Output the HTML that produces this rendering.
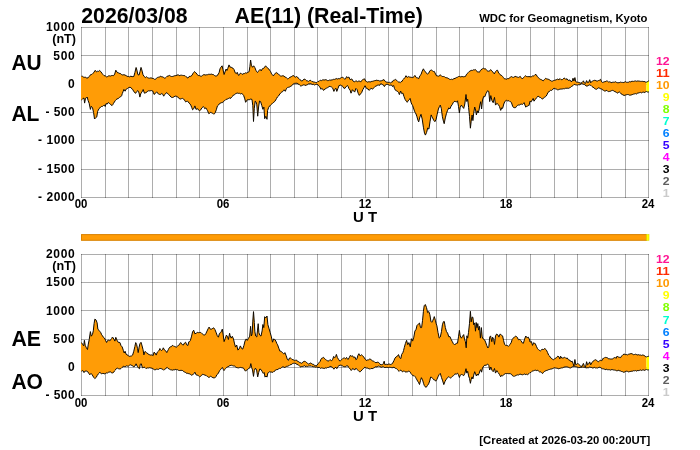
<!DOCTYPE html><html><head><meta charset="utf-8"><title>AE(11) Real-Time</title>
<style>html,body{margin:0;padding:0;background:#fff}svg{display:block}text{font-family:"Liberation Sans",sans-serif;font-weight:bold;fill:#000}</style></head><body>
<svg width="700" height="450" viewBox="0 0 700 450">
<rect width="700" height="450" fill="#fff"/>
<g stroke="#000" stroke-opacity="0.32" stroke-width="1" fill="none" shape-rendering="crispEdges"><line x1="81.5" y1="27.0" x2="81.5" y2="198.0"/><line x1="105.5" y1="27.0" x2="105.5" y2="198.0"/><line x1="128.5" y1="27.0" x2="128.5" y2="198.0"/><line x1="152.5" y1="27.0" x2="152.5" y2="198.0"/><line x1="176.5" y1="27.0" x2="176.5" y2="198.0"/><line x1="199.5" y1="27.0" x2="199.5" y2="198.0"/><line x1="223.5" y1="27.0" x2="223.5" y2="198.0"/><line x1="247.5" y1="27.0" x2="247.5" y2="198.0"/><line x1="270.5" y1="27.0" x2="270.5" y2="198.0"/><line x1="294.5" y1="27.0" x2="294.5" y2="198.0"/><line x1="317.5" y1="27.0" x2="317.5" y2="198.0"/><line x1="341.5" y1="27.0" x2="341.5" y2="198.0"/><line x1="365.5" y1="27.0" x2="365.5" y2="198.0"/><line x1="388.5" y1="27.0" x2="388.5" y2="198.0"/><line x1="412.5" y1="27.0" x2="412.5" y2="198.0"/><line x1="436.5" y1="27.0" x2="436.5" y2="198.0"/><line x1="459.5" y1="27.0" x2="459.5" y2="198.0"/><line x1="483.5" y1="27.0" x2="483.5" y2="198.0"/><line x1="506.5" y1="27.0" x2="506.5" y2="198.0"/><line x1="530.5" y1="27.0" x2="530.5" y2="198.0"/><line x1="554.5" y1="27.0" x2="554.5" y2="198.0"/><line x1="577.5" y1="27.0" x2="577.5" y2="198.0"/><line x1="601.5" y1="27.0" x2="601.5" y2="198.0"/><line x1="625.5" y1="27.0" x2="625.5" y2="198.0"/><line x1="648.5" y1="27.0" x2="648.5" y2="198.0"/><line x1="81.0" y1="27.5" x2="649.0" y2="27.5"/><line x1="81.0" y1="55.5" x2="649.0" y2="55.5"/><line x1="81.0" y1="84.5" x2="649.0" y2="84.5"/><line x1="81.0" y1="112.5" x2="649.0" y2="112.5"/><line x1="81.0" y1="140.5" x2="649.0" y2="140.5"/><line x1="81.0" y1="169.5" x2="649.0" y2="169.5"/><line x1="81.0" y1="197.5" x2="649.0" y2="197.5"/></g>
<g stroke="#000" stroke-opacity="0.32" stroke-width="1" fill="none" shape-rendering="crispEdges"><line x1="81.5" y1="254.0" x2="81.5" y2="396.0"/><line x1="105.5" y1="254.0" x2="105.5" y2="396.0"/><line x1="128.5" y1="254.0" x2="128.5" y2="396.0"/><line x1="152.5" y1="254.0" x2="152.5" y2="396.0"/><line x1="176.5" y1="254.0" x2="176.5" y2="396.0"/><line x1="199.5" y1="254.0" x2="199.5" y2="396.0"/><line x1="223.5" y1="254.0" x2="223.5" y2="396.0"/><line x1="247.5" y1="254.0" x2="247.5" y2="396.0"/><line x1="270.5" y1="254.0" x2="270.5" y2="396.0"/><line x1="294.5" y1="254.0" x2="294.5" y2="396.0"/><line x1="317.5" y1="254.0" x2="317.5" y2="396.0"/><line x1="341.5" y1="254.0" x2="341.5" y2="396.0"/><line x1="365.5" y1="254.0" x2="365.5" y2="396.0"/><line x1="388.5" y1="254.0" x2="388.5" y2="396.0"/><line x1="412.5" y1="254.0" x2="412.5" y2="396.0"/><line x1="436.5" y1="254.0" x2="436.5" y2="396.0"/><line x1="459.5" y1="254.0" x2="459.5" y2="396.0"/><line x1="483.5" y1="254.0" x2="483.5" y2="396.0"/><line x1="506.5" y1="254.0" x2="506.5" y2="396.0"/><line x1="530.5" y1="254.0" x2="530.5" y2="396.0"/><line x1="554.5" y1="254.0" x2="554.5" y2="396.0"/><line x1="577.5" y1="254.0" x2="577.5" y2="396.0"/><line x1="601.5" y1="254.0" x2="601.5" y2="396.0"/><line x1="625.5" y1="254.0" x2="625.5" y2="396.0"/><line x1="648.5" y1="254.0" x2="648.5" y2="396.0"/><line x1="81.0" y1="254.5" x2="649.0" y2="254.5"/><line x1="81.0" y1="282.5" x2="649.0" y2="282.5"/><line x1="81.0" y1="310.5" x2="649.0" y2="310.5"/><line x1="81.0" y1="339.5" x2="649.0" y2="339.5"/><line x1="81.0" y1="367.5" x2="649.0" y2="367.5"/><line x1="81.0" y1="395.5" x2="649.0" y2="395.5"/></g>
<polygon points="81.0,76.2 81.5,76.2 82.5,76.3 83.5,77.1 84.3,77.3 85.2,77.1 86.1,77.7 86.9,78.1 88.1,77.8 89.2,76.5 90.1,75.2 91.0,74.5 91.8,74.4 92.7,73.5 93.9,72.5 95.0,70.4 95.9,71.1 96.8,71.9 97.6,71.2 98.5,71.4 99.7,70.5 100.8,71.6 102.0,73.3 103.1,74.7 104.0,75.6 104.9,75.8 105.7,76.1 106.6,76.9 107.7,76.5 108.9,75.7 109.8,75.9 110.6,76.0 111.8,75.5 112.7,75.5 113.5,75.7 114.7,74.1 115.8,70.2 117.0,72.1 117.9,72.9 118.7,72.9 119.9,73.6 120.8,73.7 121.6,74.6 122.8,75.0 123.9,74.7 125.1,75.1 126.2,75.7 127.1,76.2 128.0,76.6 128.8,76.5 129.7,76.9 130.9,76.1 132.0,76.7 132.9,76.6 133.8,76.5 134.9,72.5 136.1,67.5 136.9,70.1 137.8,74.5 139.0,75.1 140.1,71.3 141.0,67.4 141.8,69.9 143.0,74.7 144.2,76.5 145.3,77.6 146.5,76.7 147.6,77.7 148.5,78.0 149.4,78.2 150.2,78.0 151.1,77.8 152.0,78.3 152.8,78.5 153.7,78.6 154.6,79.4 155.0,79.5 155.9,78.8 156.7,78.1 157.6,77.4 158.5,77.2 159.3,77.1 160.2,76.3 161.1,76.5 161.9,76.9 162.8,76.9 163.7,77.5 164.5,78.1 165.4,77.9 166.3,77.1 167.1,76.3 168.0,76.0 168.9,75.8 169.7,75.4 170.6,76.2 171.5,76.5 172.3,76.5 173.2,76.3 174.1,75.9 174.9,75.7 175.8,75.6 177.0,75.2 178.1,74.7 179.0,75.5 179.9,75.6 180.7,75.2 181.6,75.2 182.5,75.4 183.3,75.5 184.2,75.6 185.1,75.8 185.9,76.6 186.8,77.2 187.9,78.1 189.1,76.5 190.0,76.3 190.8,76.3 192.0,75.3 193.2,73.1 193.8,72.4 194.5,71.5 195.3,72.4 196.0,72.8 197.2,74.6 198.1,75.3 198.9,75.6 199.8,75.7 200.7,76.2 201.5,76.2 202.4,75.5 203.3,74.8 204.1,74.7 205.0,74.8 205.9,75.1 206.7,74.7 207.6,74.7 208.5,74.3 209.3,74.3 210.2,74.4 211.1,74.1 211.9,74.2 212.8,74.6 213.7,74.7 214.5,75.5 215.4,75.9 216.3,76.3 217.1,75.2 218.0,74.8 219.2,72.3 220.0,68.8 220.9,67.2 222.1,65.8 223.0,69.8 224.1,74.5 225.3,71.0 226.1,69.0 226.9,70.5 227.8,68.4 229.0,64.9 230.1,67.2 231.2,67.0 232.0,67.9 232.9,68.1 234.0,69.5 235.2,72.8 236.4,73.6 237.2,72.3 237.9,74.0 238.7,75.5 239.5,74.5 240.4,73.1 241.3,73.5 242.1,74.3 243.0,74.1 243.9,73.4 244.7,73.5 245.6,72.8 246.5,73.1 247.3,72.7 248.2,72.1 249.1,71.7 249.9,66.4 250.6,60.0 251.4,65.2 252.5,67.3 253.7,65.8 254.9,67.7 256.0,70.5 256.8,71.8 257.5,72.5 258.2,71.6 258.9,70.6 260.1,69.4 261.2,70.9 262.4,68.7 263.2,68.6 264.1,67.9 264.9,66.7 265.6,65.8 266.3,66.9 267.0,67.4 267.9,68.2 268.7,68.8 269.6,70.3 270.5,71.4 271.6,73.9 272.3,74.7 273.0,75.7 273.8,75.4 274.5,74.2 275.4,73.2 276.2,72.5 277.1,73.2 278.0,73.6 278.8,74.7 279.7,75.2 280.6,76.0 281.4,76.1 282.3,75.8 283.2,75.8 284.0,76.0 284.9,77.1 285.8,77.2 286.6,78.0 287.5,78.8 288.4,78.6 289.2,78.1 290.1,77.0 291.0,77.0 291.8,76.3 292.7,75.8 293.6,75.5 294.3,76.6 295.0,77.0 295.7,77.1 296.5,76.5 297.3,76.9 298.2,78.1 299.1,78.7 299.9,79.7 300.8,80.1 301.7,81.2 302.8,80.3 304.0,79.2 305.0,79.2 305.9,80.1 306.7,80.8 307.6,80.9 308.5,81.4 309.3,80.7 310.2,80.3 311.1,80.7 311.9,81.5 312.8,81.6 313.7,82.0 314.5,82.1 315.4,82.4 316.3,82.6 317.1,82.3 318.0,81.4 318.9,81.4 319.7,80.6 320.6,80.3 321.5,80.6 322.3,80.0 323.2,79.8 324.1,80.1 324.9,79.8 325.8,79.7 326.7,80.0 327.5,80.6 328.4,80.6 329.3,80.0 330.1,80.4 331.0,79.8 331.9,80.1 332.7,79.7 333.6,79.3 334.5,79.4 335.3,79.1 336.2,78.5 337.1,79.0 337.9,78.9 338.8,78.5 339.7,78.9 340.5,77.9 341.4,77.6 342.6,77.2 343.4,78.0 344.3,78.9 345.5,78.9 346.6,76.6 347.8,77.7 348.9,77.0 350.1,79.7 351.0,79.4 351.8,78.9 353.0,81.0 353.8,81.6 354.7,81.9 355.9,80.6 356.7,81.3 357.6,81.7 358.5,81.2 359.3,80.8 360.5,82.1 361.6,80.6 362.5,79.8 363.4,79.3 364.5,78.8 365.7,81.2 366.6,81.5 367.4,82.1 368.3,81.8 369.2,81.7 370.0,82.0 370.9,81.8 371.8,81.3 372.6,81.3 373.5,81.0 374.4,80.7 375.2,80.6 376.1,80.3 377.0,80.1 377.8,80.6 378.7,80.5 379.6,81.0 380.0,81.2 380.9,80.7 381.7,80.7 382.9,80.1 384.0,79.6 385.2,81.4 386.1,82.1 386.9,82.0 387.8,82.3 388.7,82.6 389.5,82.3 390.4,82.9 391.3,82.2 392.1,82.3 393.3,80.4 394.5,80.0 395.6,79.4 396.8,80.5 397.6,81.3 398.5,82.0 399.4,82.0 400.2,82.7 401.1,81.6 402.0,81.5 402.8,79.8 403.7,79.0 404.9,77.7 406.0,75.7 407.2,77.4 407.9,77.1 408.7,76.5 409.4,77.0 410.1,77.1 410.9,77.3 411.8,77.4 412.7,77.6 413.5,77.3 414.2,76.2 414.9,75.4 416.1,77.4 416.8,77.8 417.6,77.9 418.7,78.7 419.9,75.7 421.0,74.6 422.2,71.1 423.4,68.8 424.5,70.9 425.7,72.1 426.4,73.3 427.2,74.0 427.9,73.8 428.6,73.3 429.7,71.1 430.9,69.9 431.7,70.2 432.6,70.9 433.5,71.5 434.3,71.4 435.5,74.0 436.6,75.9 437.5,75.9 438.4,76.2 439.5,75.8 440.3,74.7 441.1,75.6 441.8,76.4 442.7,76.5 443.6,76.5 444.5,76.7 445.3,77.5 446.2,77.7 447.1,77.8 447.9,78.2 448.8,78.7 449.7,79.3 450.5,79.5 451.4,79.2 452.3,79.6 453.1,78.9 454.0,78.9 455.0,78.1 455.9,78.1 456.7,77.4 457.6,77.2 458.5,76.5 459.3,76.4 460.2,76.8 461.1,76.9 461.9,76.3 462.8,76.7 463.7,76.8 464.5,76.6 465.4,76.5 466.6,74.2 467.4,73.6 468.3,72.4 469.2,71.5 470.0,71.1 470.9,70.5 471.8,70.3 472.6,70.4 473.5,69.8 474.4,69.9 475.2,69.5 476.4,70.5 477.5,72.1 478.4,71.9 479.3,72.4 480.4,70.4 481.1,70.1 481.8,69.0 482.6,68.7 483.3,68.2 484.1,68.8 484.8,68.8 485.5,68.7 486.2,69.6 486.9,70.5 487.6,71.0 488.4,71.2 489.1,71.2 489.9,70.7 490.6,69.6 491.3,70.2 492.0,71.3 493.2,72.3 494.3,73.9 495.5,71.7 496.6,70.4 497.5,70.2 498.7,73.1 499.4,73.5 500.1,74.7 501.0,75.2 501.8,75.6 502.6,76.5 503.3,77.4 504.0,78.5 504.7,78.8 505.6,78.9 506.4,79.3 507.3,78.6 508.2,78.8 509.0,78.2 509.9,77.7 510.8,76.9 511.6,76.6 512.5,77.2 513.4,77.4 514.2,77.0 515.1,76.3 516.0,76.7 516.8,76.9 517.7,77.2 518.6,77.4 519.5,76.8 520.3,76.4 521.2,77.8 522.1,78.8 522.9,78.2 523.8,77.5 524.7,76.5 525.5,75.6 526.4,76.5 527.3,76.6 528.1,76.8 529.0,76.4 530.0,76.9 530.9,76.8 531.7,76.6 532.6,75.9 533.5,76.0 534.2,75.5 534.9,74.8 536.0,74.4 537.2,76.3 537.9,77.3 538.7,77.9 539.5,78.7 540.4,79.3 541.3,79.6 542.1,80.2 543.3,80.8 544.5,79.4 545.6,78.3 546.5,78.8 547.3,79.0 548.2,79.2 549.1,79.6 549.9,80.1 550.8,80.7 551.7,81.2 552.5,81.1 553.4,80.6 554.3,80.4 555.1,80.0 556.0,80.0 556.9,79.4 557.7,79.1 558.9,79.7 560.1,78.6 561.2,79.7 562.4,79.6 563.2,78.8 564.1,78.1 565.0,78.4 565.8,79.5 567.0,78.7 568.2,80.4 569.0,80.4 569.9,79.9 571.0,81.7 572.2,81.2 573.0,78.2 573.9,81.0 574.9,77.6 575.7,81.6 576.5,82.0 577.4,82.2 578.3,82.3 579.1,82.6 580.0,82.9 580.9,83.2 582.0,82.6 582.7,81.9 583.4,80.8 584.3,82.9 585.5,83.4 586.6,80.6 587.6,82.6 588.7,82.3 589.7,79.7 590.7,82.8 591.6,81.6 592.4,81.2 593.3,80.7 594.2,80.4 595.0,80.2 595.9,80.7 596.8,81.0 597.6,81.0 598.5,80.5 599.4,80.3 600.5,79.3 601.6,81.8 602.4,82.4 603.3,82.2 604.2,81.8 605.0,81.7 605.9,81.4 606.8,80.9 607.6,81.2 608.5,82.0 609.4,81.8 610.2,82.0 611.1,82.6 612.0,82.5 612.8,82.2 613.7,82.2 614.6,82.2 615.4,81.7 616.3,82.3 617.2,82.6 618.0,82.9 618.9,82.6 619.8,82.5 620.6,82.1 621.5,82.4 622.4,82.4 623.2,82.6 624.1,82.3 625.0,81.9 625.8,81.7 626.7,82.4 627.6,82.3 628.4,82.3 629.3,81.6 630.2,82.0 631.0,81.6 631.9,81.3 632.8,81.3 633.6,81.4 634.5,81.1 635.4,80.9 636.2,81.4 637.1,80.9 638.0,81.2 638.8,81.0 639.7,81.2 640.6,81.4 641.4,81.4 642.3,81.3 643.2,81.6 644.0,81.4 644.9,81.7 645.8,82.2 646.4,82.1 646.4,91.6 645.8,91.7 644.9,92.5 644.0,92.3 643.2,92.1 642.3,92.4 641.4,92.9 640.6,92.4 639.7,92.6 638.8,92.9 638.0,93.1 637.1,93.3 636.2,94.2 635.4,93.6 634.5,93.9 633.6,94.1 632.8,94.4 631.9,94.8 631.0,94.9 630.2,95.2 629.3,95.1 628.4,94.6 627.6,94.5 626.7,94.7 625.8,94.9 625.0,95.2 624.1,95.5 622.9,94.8 622.1,94.5 621.2,93.9 620.3,92.7 619.5,92.0 618.6,92.2 617.7,93.2 616.9,92.8 616.0,91.8 615.1,92.0 614.3,91.2 613.4,90.7 612.5,90.4 611.7,90.6 610.8,91.1 609.7,91.4 608.6,91.6 607.7,91.3 606.9,90.4 606.0,90.5 605.1,91.2 604.3,90.9 603.4,90.3 602.5,89.9 601.7,88.9 600.8,88.9 599.9,88.3 599.1,88.1 598.2,87.8 597.3,88.8 596.5,89.3 595.6,89.1 594.7,88.7 593.9,87.6 593.0,87.4 592.1,86.5 591.3,85.7 590.4,85.3 589.5,84.9 588.7,85.1 587.8,86.0 586.9,86.0 586.1,86.1 585.2,84.9 584.3,84.5 583.5,84.3 582.6,83.8 581.7,83.4 580.9,84.0 580.0,84.7 579.1,84.8 578.3,84.7 577.4,85.1 576.5,85.0 575.7,84.9 574.8,84.4 573.9,84.6 573.1,85.5 572.2,86.1 571.3,86.6 570.5,87.4 569.6,87.8 568.7,88.3 567.9,88.3 567.0,88.1 566.1,88.4 565.3,88.3 564.4,88.8 563.5,88.7 562.7,88.9 561.8,89.1 560.9,88.9 560.1,89.3 559.2,89.3 558.3,89.8 557.5,89.8 556.6,89.2 555.7,89.0 554.9,88.4 554.0,88.4 553.1,88.9 552.3,89.9 551.4,90.5 550.5,90.3 549.7,90.9 548.8,92.0 547.9,92.5 547.1,94.5 546.2,96.1 545.3,96.8 544.5,97.3 543.6,97.8 542.7,99.1 541.6,98.6 540.7,97.6 539.8,97.3 539.0,96.9 538.1,96.0 537.2,97.3 536.4,97.9 535.2,99.6 534.0,101.2 533.2,98.4 532.3,99.9 531.2,101.8 530.0,101.1 529.0,105.6 528.3,105.5 527.6,106.1 526.7,106.3 525.8,107.2 524.9,105.0 524.1,102.6 523.4,103.6 522.6,104.4 521.8,104.1 520.9,104.2 520.0,104.5 519.2,105.2 518.3,105.0 517.4,105.5 516.6,106.2 515.7,107.6 514.8,107.6 514.0,107.9 513.3,107.2 512.6,106.1 511.4,102.5 510.7,101.8 509.9,101.6 509.0,100.7 508.2,100.8 507.3,100.9 506.4,100.3 505.7,100.8 504.9,101.4 503.8,104.0 502.6,108.4 501.8,107.7 500.7,110.4 499.5,106.6 498.4,104.6 497.6,103.9 496.8,103.3 496.2,104.4 495.5,105.1 494.5,97.4 493.8,100.0 493.2,102.7 492.0,100.8 490.8,95.6 489.7,101.6 488.8,91.6 487.6,90.7 486.8,92.1 486.0,93.6 484.8,96.8 483.7,96.4 482.5,100.0 481.6,109.0 480.7,101.7 479.9,104.9 479.0,110.1 478.1,113.0 477.3,110.8 476.4,115.0 475.6,110.0 474.7,107.0 473.7,113.2 472.9,120.6 472.1,115.0 471.2,121.2 470.4,128.2 469.5,116.4 468.6,107.4 467.7,99.2 466.8,101.5 466.0,94.5 464.8,104.0 463.7,108.4 462.5,106.8 461.4,105.1 460.2,107.3 459.4,113.0 458.5,106.3 457.5,100.8 456.4,102.1 455.7,101.7 455.0,101.1 454.0,101.7 453.1,102.8 452.3,104.5 451.1,106.1 449.9,108.9 448.8,107.8 447.6,110.3 446.5,113.3 445.3,117.9 444.2,123.7 443.4,121.1 442.4,116.7 441.3,108.5 440.3,105.1 439.5,106.4 438.4,109.0 437.2,114.3 436.1,119.3 434.9,121.7 433.8,120.4 432.6,117.9 431.9,116.6 431.2,114.9 430.1,121.2 428.9,129.1 427.7,128.0 426.6,132.4 425.4,135.1 424.5,133.2 423.4,127.2 422.2,119.1 421.0,114.3 419.9,117.0 418.7,121.9 417.9,120.1 416.8,116.2 416.0,114.0 415.3,112.7 414.5,111.2 413.8,109.0 412.6,105.5 411.9,104.3 411.2,102.9 410.1,98.4 409.4,99.6 408.7,100.1 407.9,101.2 407.2,102.3 406.4,101.3 405.2,99.6 404.0,96.6 402.9,93.1 401.7,93.6 400.6,91.0 399.4,94.6 398.5,92.4 397.3,91.2 396.5,90.8 395.6,90.4 394.5,88.6 393.6,85.5 392.5,86.6 391.6,85.0 390.4,85.2 389.5,85.3 388.7,84.8 387.8,84.4 386.9,84.3 386.2,84.5 385.5,84.8 384.4,86.6 383.2,84.7 382.5,84.6 381.7,83.9 380.9,83.9 380.0,84.3 379.6,85.4 378.7,85.1 377.8,85.0 377.0,85.7 376.1,86.0 375.2,86.4 374.4,87.2 373.5,88.1 372.6,89.2 371.8,88.6 370.9,88.3 370.0,89.5 369.2,90.4 368.0,88.9 367.1,88.9 366.3,88.1 365.1,85.7 364.0,87.6 362.8,89.7 361.6,92.7 360.5,93.9 359.3,95.4 358.2,93.3 357.0,89.5 355.9,88.4 354.7,92.1 353.6,91.0 352.4,89.7 351.7,91.7 351.0,93.2 350.1,90.1 348.9,88.6 348.2,86.7 347.5,85.5 346.8,86.2 346.0,86.6 344.9,88.4 343.7,88.1 343.0,86.7 342.2,86.0 341.5,85.6 340.8,85.0 340.0,85.5 339.1,85.4 337.9,88.6 336.8,91.4 336.0,88.3 334.8,89.3 333.9,91.4 332.7,88.1 331.6,87.1 330.7,86.7 329.9,86.3 329.0,86.7 328.1,87.3 327.3,87.8 326.4,88.0 325.6,88.9 324.9,89.0 324.2,89.9 323.5,90.4 322.3,88.6 321.6,88.6 321.0,89.3 319.8,86.9 318.6,85.8 317.9,84.7 317.1,84.3 316.3,84.3 315.4,84.6 314.5,85.0 313.7,84.3 312.8,84.6 311.9,84.1 311.1,84.0 310.2,83.5 309.3,83.9 308.5,83.7 307.6,84.7 306.7,85.0 305.9,85.2 305.0,85.5 304.6,84.9 303.4,84.9 302.3,85.4 301.5,85.8 300.8,86.1 299.9,85.3 299.1,84.3 298.2,84.1 297.1,83.2 295.9,83.3 294.7,83.3 293.6,83.8 292.7,84.4 291.8,85.7 291.0,86.2 290.1,86.5 289.2,87.2 288.4,87.3 287.5,87.6 286.6,88.3 286.0,89.7 285.3,91.3 284.1,89.8 283.4,90.6 282.6,91.7 281.7,92.1 280.9,92.7 280.0,93.9 279.1,95.0 278.3,96.3 277.4,97.0 276.5,98.6 275.7,100.0 274.8,101.4 273.9,102.2 273.1,102.7 272.2,103.7 271.3,104.4 270.5,105.1 269.6,106.0 268.7,107.4 267.6,110.4 267.0,119.3 265.8,116.3 264.7,118.7 263.9,107.1 262.9,109.3 261.8,105.6 260.6,101.6 259.5,101.0 258.6,107.0 257.7,116.2 256.8,104.8 256.0,101.9 255.2,101.1 254.3,108.3 253.5,121.5 252.8,105.7 252.0,99.5 250.8,99.0 249.9,99.5 249.1,99.8 248.2,99.7 247.3,99.8 246.5,101.0 245.6,102.3 244.8,98.9 243.6,95.4 242.9,94.7 242.1,93.5 241.3,93.6 240.4,93.9 239.5,93.3 238.7,93.4 237.8,93.1 236.9,93.2 236.1,93.5 235.2,94.0 234.3,94.8 233.5,95.0 232.6,96.3 231.7,97.1 230.9,98.0 230.0,98.5 229.6,97.8 228.7,98.4 227.8,98.8 227.0,99.3 226.1,99.3 225.2,100.3 224.4,100.7 223.5,101.3 222.6,102.6 221.8,102.6 220.9,102.9 220.0,103.4 219.2,103.9 218.3,105.3 217.4,106.0 216.3,109.8 215.1,112.9 214.4,113.8 213.7,114.2 212.7,113.2 211.6,112.8 211.0,112.4 210.3,112.3 209.5,113.4 208.8,113.7 207.6,110.8 206.7,109.3 205.9,107.9 204.7,108.7 204.0,107.3 203.3,106.5 202.6,107.4 201.8,108.0 200.7,109.9 199.5,110.9 198.6,109.9 197.8,108.8 196.9,108.9 196.0,109.4 194.9,105.9 193.7,108.8 192.6,109.8 191.7,107.4 190.8,105.2 190.0,103.9 189.1,103.1 188.2,101.9 187.4,101.1 186.7,101.3 186.0,102.1 185.2,101.4 184.5,100.1 183.6,99.0 182.7,98.5 182.1,98.3 181.4,98.7 180.6,98.9 179.9,99.2 179.0,98.1 178.1,97.4 177.3,97.0 176.4,96.0 175.2,96.2 174.1,96.7 173.2,97.3 172.3,97.5 171.2,97.2 170.0,96.0 169.2,94.8 168.3,94.2 167.6,93.7 166.9,92.7 166.2,92.9 165.4,93.9 164.5,94.8 163.7,96.2 162.8,94.3 161.9,93.5 161.1,93.9 160.2,94.6 159.3,94.3 158.5,94.1 157.6,93.0 156.7,91.8 155.9,92.7 155.0,93.8 154.0,94.4 153.3,92.2 152.6,90.9 151.8,90.6 151.1,90.6 150.2,90.8 149.4,90.9 148.5,90.8 147.6,91.2 146.8,92.2 145.9,92.6 145.1,93.0 144.4,93.2 143.2,89.5 142.5,91.1 141.8,92.1 140.7,93.9 139.9,97.1 139.0,92.9 137.8,90.6 136.6,91.7 135.5,93.4 134.3,92.0 133.5,91.0 132.6,89.3 131.7,88.8 130.9,87.5 130.0,87.4 129.1,87.4 128.3,87.8 127.4,88.6 126.2,89.1 125.1,91.2 123.9,89.4 123.0,91.8 122.3,93.6 121.6,95.8 120.5,96.9 119.3,97.5 118.2,98.6 117.0,98.9 116.1,99.7 115.3,100.6 114.4,102.0 113.5,103.3 112.8,104.7 112.1,105.5 111.0,104.9 110.2,104.1 109.5,103.5 108.3,102.5 107.2,104.1 106.0,103.6 105.2,106.5 104.3,105.1 103.4,105.6 102.5,106.4 101.7,106.4 100.8,106.9 99.9,107.9 99.1,108.6 98.3,110.1 97.6,111.5 96.8,116.9 95.6,117.8 94.5,119.0 93.6,112.6 92.5,107.7 91.3,106.3 90.4,109.4 89.2,103.4 88.1,100.5 87.2,97.0 86.4,97.9 85.5,98.3 84.6,103.1 84.0,98.1 82.9,98.5 82.2,99.4 81.5,100.0 81.0,100.0" fill="#ff9c06"/><polygon points="646.4,82.1 646.6,82.1 647.5,81.8 648.4,80.9 649.0,81.1 649.0,91.6 648.4,92.0 647.5,92.0 646.6,91.5 646.4,91.6" fill="#ffff00"/><polyline points="81.5,76.2 82.5,76.3 83.5,77.1 84.3,77.3 85.2,77.1 86.1,77.7 86.9,78.1 88.1,77.8 89.2,76.5 90.1,75.2 91.0,74.5 91.8,74.4 92.7,73.5 93.9,72.5 95.0,70.4 95.9,71.1 96.8,71.9 97.6,71.2 98.5,71.4 99.7,70.5 100.8,71.6 102.0,73.3 103.1,74.7 104.0,75.6 104.9,75.8 105.7,76.1 106.6,76.9 107.7,76.5 108.9,75.7 109.8,75.9 110.6,76.0 111.8,75.5 112.7,75.5 113.5,75.7 114.7,74.1 115.8,70.2 117.0,72.1 117.9,72.9 118.7,72.9 119.9,73.6 120.8,73.7 121.6,74.6 122.8,75.0 123.9,74.7 125.1,75.1 126.2,75.7 127.1,76.2 128.0,76.6 128.8,76.5 129.7,76.9 130.9,76.1 132.0,76.7 132.9,76.6 133.8,76.5 134.9,72.5 136.1,67.5 136.9,70.1 137.8,74.5 139.0,75.1 140.1,71.3 141.0,67.4 141.8,69.9 143.0,74.7 144.2,76.5 145.3,77.6 146.5,76.7 147.6,77.7 148.5,78.0 149.4,78.2 150.2,78.0 151.1,77.8 152.0,78.3 152.8,78.5 153.7,78.6 154.6,79.4 155.0,79.5 155.9,78.8 156.7,78.1 157.6,77.4 158.5,77.2 159.3,77.1 160.2,76.3 161.1,76.5 161.9,76.9 162.8,76.9 163.7,77.5 164.5,78.1 165.4,77.9 166.3,77.1 167.1,76.3 168.0,76.0 168.9,75.8 169.7,75.4 170.6,76.2 171.5,76.5 172.3,76.5 173.2,76.3 174.1,75.9 174.9,75.7 175.8,75.6 177.0,75.2 178.1,74.7 179.0,75.5 179.9,75.6 180.7,75.2 181.6,75.2 182.5,75.4 183.3,75.5 184.2,75.6 185.1,75.8 185.9,76.6 186.8,77.2 187.9,78.1 189.1,76.5 190.0,76.3 190.8,76.3 192.0,75.3 193.2,73.1 193.8,72.4 194.5,71.5 195.3,72.4 196.0,72.8 197.2,74.6 198.1,75.3 198.9,75.6 199.8,75.7 200.7,76.2 201.5,76.2 202.4,75.5 203.3,74.8 204.1,74.7 205.0,74.8 205.9,75.1 206.7,74.7 207.6,74.7 208.5,74.3 209.3,74.3 210.2,74.4 211.1,74.1 211.9,74.2 212.8,74.6 213.7,74.7 214.5,75.5 215.4,75.9 216.3,76.3 217.1,75.2 218.0,74.8 219.2,72.3 220.0,68.8 220.9,67.2 222.1,65.8 223.0,69.8 224.1,74.5 225.3,71.0 226.1,69.0 226.9,70.5 227.8,68.4 229.0,64.9 230.1,67.2 231.2,67.0 232.0,67.9 232.9,68.1 234.0,69.5 235.2,72.8 236.4,73.6 237.2,72.3 237.9,74.0 238.7,75.5 239.5,74.5 240.4,73.1 241.3,73.5 242.1,74.3 243.0,74.1 243.9,73.4 244.7,73.5 245.6,72.8 246.5,73.1 247.3,72.7 248.2,72.1 249.1,71.7 249.9,66.4 250.6,60.0 251.4,65.2 252.5,67.3 253.7,65.8 254.9,67.7 256.0,70.5 256.8,71.8 257.5,72.5 258.2,71.6 258.9,70.6 260.1,69.4 261.2,70.9 262.4,68.7 263.2,68.6 264.1,67.9 264.9,66.7 265.6,65.8 266.3,66.9 267.0,67.4 267.9,68.2 268.7,68.8 269.6,70.3 270.5,71.4 271.6,73.9 272.3,74.7 273.0,75.7 273.8,75.4 274.5,74.2 275.4,73.2 276.2,72.5 277.1,73.2 278.0,73.6 278.8,74.7 279.7,75.2 280.6,76.0 281.4,76.1 282.3,75.8 283.2,75.8 284.0,76.0 284.9,77.1 285.8,77.2 286.6,78.0 287.5,78.8 288.4,78.6 289.2,78.1 290.1,77.0 291.0,77.0 291.8,76.3 292.7,75.8 293.6,75.5 294.3,76.6 295.0,77.0 295.7,77.1 296.5,76.5 297.3,76.9 298.2,78.1 299.1,78.7 299.9,79.7 300.8,80.1 301.7,81.2 302.8,80.3 304.0,79.2 305.0,79.2 305.9,80.1 306.7,80.8 307.6,80.9 308.5,81.4 309.3,80.7 310.2,80.3 311.1,80.7 311.9,81.5 312.8,81.6 313.7,82.0 314.5,82.1 315.4,82.4 316.3,82.6 317.1,82.3 318.0,81.4 318.9,81.4 319.7,80.6 320.6,80.3 321.5,80.6 322.3,80.0 323.2,79.8 324.1,80.1 324.9,79.8 325.8,79.7 326.7,80.0 327.5,80.6 328.4,80.6 329.3,80.0 330.1,80.4 331.0,79.8 331.9,80.1 332.7,79.7 333.6,79.3 334.5,79.4 335.3,79.1 336.2,78.5 337.1,79.0 337.9,78.9 338.8,78.5 339.7,78.9 340.5,77.9 341.4,77.6 342.6,77.2 343.4,78.0 344.3,78.9 345.5,78.9 346.6,76.6 347.8,77.7 348.9,77.0 350.1,79.7 351.0,79.4 351.8,78.9 353.0,81.0 353.8,81.6 354.7,81.9 355.9,80.6 356.7,81.3 357.6,81.7 358.5,81.2 359.3,80.8 360.5,82.1 361.6,80.6 362.5,79.8 363.4,79.3 364.5,78.8 365.7,81.2 366.6,81.5 367.4,82.1 368.3,81.8 369.2,81.7 370.0,82.0 370.9,81.8 371.8,81.3 372.6,81.3 373.5,81.0 374.4,80.7 375.2,80.6 376.1,80.3 377.0,80.1 377.8,80.6 378.7,80.5 379.6,81.0 380.0,81.2 380.9,80.7 381.7,80.7 382.9,80.1 384.0,79.6 385.2,81.4 386.1,82.1 386.9,82.0 387.8,82.3 388.7,82.6 389.5,82.3 390.4,82.9 391.3,82.2 392.1,82.3 393.3,80.4 394.5,80.0 395.6,79.4 396.8,80.5 397.6,81.3 398.5,82.0 399.4,82.0 400.2,82.7 401.1,81.6 402.0,81.5 402.8,79.8 403.7,79.0 404.9,77.7 406.0,75.7 407.2,77.4 407.9,77.1 408.7,76.5 409.4,77.0 410.1,77.1 410.9,77.3 411.8,77.4 412.7,77.6 413.5,77.3 414.2,76.2 414.9,75.4 416.1,77.4 416.8,77.8 417.6,77.9 418.7,78.7 419.9,75.7 421.0,74.6 422.2,71.1 423.4,68.8 424.5,70.9 425.7,72.1 426.4,73.3 427.2,74.0 427.9,73.8 428.6,73.3 429.7,71.1 430.9,69.9 431.7,70.2 432.6,70.9 433.5,71.5 434.3,71.4 435.5,74.0 436.6,75.9 437.5,75.9 438.4,76.2 439.5,75.8 440.3,74.7 441.1,75.6 441.8,76.4 442.7,76.5 443.6,76.5 444.5,76.7 445.3,77.5 446.2,77.7 447.1,77.8 447.9,78.2 448.8,78.7 449.7,79.3 450.5,79.5 451.4,79.2 452.3,79.6 453.1,78.9 454.0,78.9 455.0,78.1 455.9,78.1 456.7,77.4 457.6,77.2 458.5,76.5 459.3,76.4 460.2,76.8 461.1,76.9 461.9,76.3 462.8,76.7 463.7,76.8 464.5,76.6 465.4,76.5 466.6,74.2 467.4,73.6 468.3,72.4 469.2,71.5 470.0,71.1 470.9,70.5 471.8,70.3 472.6,70.4 473.5,69.8 474.4,69.9 475.2,69.5 476.4,70.5 477.5,72.1 478.4,71.9 479.3,72.4 480.4,70.4 481.1,70.1 481.8,69.0 482.6,68.7 483.3,68.2 484.1,68.8 484.8,68.8 485.5,68.7 486.2,69.6 486.9,70.5 487.6,71.0 488.4,71.2 489.1,71.2 489.9,70.7 490.6,69.6 491.3,70.2 492.0,71.3 493.2,72.3 494.3,73.9 495.5,71.7 496.6,70.4 497.5,70.2 498.7,73.1 499.4,73.5 500.1,74.7 501.0,75.2 501.8,75.6 502.6,76.5 503.3,77.4 504.0,78.5 504.7,78.8 505.6,78.9 506.4,79.3 507.3,78.6 508.2,78.8 509.0,78.2 509.9,77.7 510.8,76.9 511.6,76.6 512.5,77.2 513.4,77.4 514.2,77.0 515.1,76.3 516.0,76.7 516.8,76.9 517.7,77.2 518.6,77.4 519.5,76.8 520.3,76.4 521.2,77.8 522.1,78.8 522.9,78.2 523.8,77.5 524.7,76.5 525.5,75.6 526.4,76.5 527.3,76.6 528.1,76.8 529.0,76.4 530.0,76.9 530.9,76.8 531.7,76.6 532.6,75.9 533.5,76.0 534.2,75.5 534.9,74.8 536.0,74.4 537.2,76.3 537.9,77.3 538.7,77.9 539.5,78.7 540.4,79.3 541.3,79.6 542.1,80.2 543.3,80.8 544.5,79.4 545.6,78.3 546.5,78.8 547.3,79.0 548.2,79.2 549.1,79.6 549.9,80.1 550.8,80.7 551.7,81.2 552.5,81.1 553.4,80.6 554.3,80.4 555.1,80.0 556.0,80.0 556.9,79.4 557.7,79.1 558.9,79.7 560.1,78.6 561.2,79.7 562.4,79.6 563.2,78.8 564.1,78.1 565.0,78.4 565.8,79.5 567.0,78.7 568.2,80.4 569.0,80.4 569.9,79.9 571.0,81.7 572.2,81.2 573.0,78.2 573.9,81.0 574.9,77.6 575.7,81.6 576.5,82.0 577.4,82.2 578.3,82.3 579.1,82.6 580.0,82.9 580.9,83.2 582.0,82.6 582.7,81.9 583.4,80.8 584.3,82.9 585.5,83.4 586.6,80.6 587.6,82.6 588.7,82.3 589.7,79.7 590.7,82.8 591.6,81.6 592.4,81.2 593.3,80.7 594.2,80.4 595.0,80.2 595.9,80.7 596.8,81.0 597.6,81.0 598.5,80.5 599.4,80.3 600.5,79.3 601.6,81.8 602.4,82.4 603.3,82.2 604.2,81.8 605.0,81.7 605.9,81.4 606.8,80.9 607.6,81.2 608.5,82.0 609.4,81.8 610.2,82.0 611.1,82.6 612.0,82.5 612.8,82.2 613.7,82.2 614.6,82.2 615.4,81.7 616.3,82.3 617.2,82.6 618.0,82.9 618.9,82.6 619.8,82.5 620.6,82.1 621.5,82.4 622.4,82.4 623.2,82.6 624.1,82.3 625.0,81.9 625.8,81.7 626.7,82.4 627.6,82.3 628.4,82.3 629.3,81.6 630.2,82.0 631.0,81.6 631.9,81.3 632.8,81.3 633.6,81.4 634.5,81.1 635.4,80.9 636.2,81.4 637.1,80.9 638.0,81.2 638.8,81.0 639.7,81.2 640.6,81.4 641.4,81.4 642.3,81.3 643.2,81.6 644.0,81.4 644.9,81.7 645.8,82.2 646.6,82.1 647.5,81.8 648.4,80.9 649.0,81.1" fill="none" stroke="#0d0800" stroke-width="1" stroke-linejoin="round"/><polyline points="81.5,100.0 82.2,99.4 82.9,98.5 84.0,98.1 84.6,103.1 85.5,98.3 86.4,97.9 87.2,97.0 88.1,100.5 89.2,103.4 90.4,109.4 91.3,106.3 92.5,107.7 93.6,112.6 94.5,119.0 95.6,117.8 96.8,116.9 97.6,111.5 98.3,110.1 99.1,108.6 99.9,107.9 100.8,106.9 101.7,106.4 102.5,106.4 103.4,105.6 104.3,105.1 105.2,106.5 106.0,103.6 107.2,104.1 108.3,102.5 109.5,103.5 110.2,104.1 111.0,104.9 112.1,105.5 112.8,104.7 113.5,103.3 114.4,102.0 115.3,100.6 116.1,99.7 117.0,98.9 118.2,98.6 119.3,97.5 120.5,96.9 121.6,95.8 122.3,93.6 123.0,91.8 123.9,89.4 125.1,91.2 126.2,89.1 127.4,88.6 128.3,87.8 129.1,87.4 130.0,87.4 130.9,87.5 131.7,88.8 132.6,89.3 133.5,91.0 134.3,92.0 135.5,93.4 136.6,91.7 137.8,90.6 139.0,92.9 139.9,97.1 140.7,93.9 141.8,92.1 142.5,91.1 143.2,89.5 144.4,93.2 145.1,93.0 145.9,92.6 146.8,92.2 147.6,91.2 148.5,90.8 149.4,90.9 150.2,90.8 151.1,90.6 151.8,90.6 152.6,90.9 153.3,92.2 154.0,94.4 155.0,93.8 155.9,92.7 156.7,91.8 157.6,93.0 158.5,94.1 159.3,94.3 160.2,94.6 161.1,93.9 161.9,93.5 162.8,94.3 163.7,96.2 164.5,94.8 165.4,93.9 166.2,92.9 166.9,92.7 167.6,93.7 168.3,94.2 169.2,94.8 170.0,96.0 171.2,97.2 172.3,97.5 173.2,97.3 174.1,96.7 175.2,96.2 176.4,96.0 177.3,97.0 178.1,97.4 179.0,98.1 179.9,99.2 180.6,98.9 181.4,98.7 182.1,98.3 182.7,98.5 183.6,99.0 184.5,100.1 185.2,101.4 186.0,102.1 186.7,101.3 187.4,101.1 188.2,101.9 189.1,103.1 190.0,103.9 190.8,105.2 191.7,107.4 192.6,109.8 193.7,108.8 194.9,105.9 196.0,109.4 196.9,108.9 197.8,108.8 198.6,109.9 199.5,110.9 200.7,109.9 201.8,108.0 202.6,107.4 203.3,106.5 204.0,107.3 204.7,108.7 205.9,107.9 206.7,109.3 207.6,110.8 208.8,113.7 209.5,113.4 210.3,112.3 211.0,112.4 211.6,112.8 212.7,113.2 213.7,114.2 214.4,113.8 215.1,112.9 216.3,109.8 217.4,106.0 218.3,105.3 219.2,103.9 220.0,103.4 220.9,102.9 221.8,102.6 222.6,102.6 223.5,101.3 224.4,100.7 225.2,100.3 226.1,99.3 227.0,99.3 227.8,98.8 228.7,98.4 229.6,97.8 230.0,98.5 230.9,98.0 231.7,97.1 232.6,96.3 233.5,95.0 234.3,94.8 235.2,94.0 236.1,93.5 236.9,93.2 237.8,93.1 238.7,93.4 239.5,93.3 240.4,93.9 241.3,93.6 242.1,93.5 242.9,94.7 243.6,95.4 244.8,98.9 245.6,102.3 246.5,101.0 247.3,99.8 248.2,99.7 249.1,99.8 249.9,99.5 250.8,99.0 252.0,99.5 252.8,105.7 253.5,121.5 254.3,108.3 255.2,101.1 256.0,101.9 256.8,104.8 257.7,116.2 258.6,107.0 259.5,101.0 260.6,101.6 261.8,105.6 262.9,109.3 263.9,107.1 264.7,118.7 265.8,116.3 267.0,119.3 267.6,110.4 268.7,107.4 269.6,106.0 270.5,105.1 271.3,104.4 272.2,103.7 273.1,102.7 273.9,102.2 274.8,101.4 275.7,100.0 276.5,98.6 277.4,97.0 278.3,96.3 279.1,95.0 280.0,93.9 280.9,92.7 281.7,92.1 282.6,91.7 283.4,90.6 284.1,89.8 285.3,91.3 286.0,89.7 286.6,88.3 287.5,87.6 288.4,87.3 289.2,87.2 290.1,86.5 291.0,86.2 291.8,85.7 292.7,84.4 293.6,83.8 294.7,83.3 295.9,83.3 297.1,83.2 298.2,84.1 299.1,84.3 299.9,85.3 300.8,86.1 301.5,85.8 302.3,85.4 303.4,84.9 304.6,84.9 305.0,85.5 305.9,85.2 306.7,85.0 307.6,84.7 308.5,83.7 309.3,83.9 310.2,83.5 311.1,84.0 311.9,84.1 312.8,84.6 313.7,84.3 314.5,85.0 315.4,84.6 316.3,84.3 317.1,84.3 317.9,84.7 318.6,85.8 319.8,86.9 321.0,89.3 321.6,88.6 322.3,88.6 323.5,90.4 324.2,89.9 324.9,89.0 325.6,88.9 326.4,88.0 327.3,87.8 328.1,87.3 329.0,86.7 329.9,86.3 330.7,86.7 331.6,87.1 332.7,88.1 333.9,91.4 334.8,89.3 336.0,88.3 336.8,91.4 337.9,88.6 339.1,85.4 340.0,85.5 340.8,85.0 341.5,85.6 342.2,86.0 343.0,86.7 343.7,88.1 344.9,88.4 346.0,86.6 346.8,86.2 347.5,85.5 348.2,86.7 348.9,88.6 350.1,90.1 351.0,93.2 351.7,91.7 352.4,89.7 353.6,91.0 354.7,92.1 355.9,88.4 357.0,89.5 358.2,93.3 359.3,95.4 360.5,93.9 361.6,92.7 362.8,89.7 364.0,87.6 365.1,85.7 366.3,88.1 367.1,88.9 368.0,88.9 369.2,90.4 370.0,89.5 370.9,88.3 371.8,88.6 372.6,89.2 373.5,88.1 374.4,87.2 375.2,86.4 376.1,86.0 377.0,85.7 377.8,85.0 378.7,85.1 379.6,85.4 380.0,84.3 380.9,83.9 381.7,83.9 382.5,84.6 383.2,84.7 384.4,86.6 385.5,84.8 386.2,84.5 386.9,84.3 387.8,84.4 388.7,84.8 389.5,85.3 390.4,85.2 391.6,85.0 392.5,86.6 393.6,85.5 394.5,88.6 395.6,90.4 396.5,90.8 397.3,91.2 398.5,92.4 399.4,94.6 400.6,91.0 401.7,93.6 402.9,93.1 404.0,96.6 405.2,99.6 406.4,101.3 407.2,102.3 407.9,101.2 408.7,100.1 409.4,99.6 410.1,98.4 411.2,102.9 411.9,104.3 412.6,105.5 413.8,109.0 414.5,111.2 415.3,112.7 416.0,114.0 416.8,116.2 417.9,120.1 418.7,121.9 419.9,117.0 421.0,114.3 422.2,119.1 423.4,127.2 424.5,133.2 425.4,135.1 426.6,132.4 427.7,128.0 428.9,129.1 430.1,121.2 431.2,114.9 431.9,116.6 432.6,117.9 433.8,120.4 434.9,121.7 436.1,119.3 437.2,114.3 438.4,109.0 439.5,106.4 440.3,105.1 441.3,108.5 442.4,116.7 443.4,121.1 444.2,123.7 445.3,117.9 446.5,113.3 447.6,110.3 448.8,107.8 449.9,108.9 451.1,106.1 452.3,104.5 453.1,102.8 454.0,101.7 455.0,101.1 455.7,101.7 456.4,102.1 457.5,100.8 458.5,106.3 459.4,113.0 460.2,107.3 461.4,105.1 462.5,106.8 463.7,108.4 464.8,104.0 466.0,94.5 466.8,101.5 467.7,99.2 468.6,107.4 469.5,116.4 470.4,128.2 471.2,121.2 472.1,115.0 472.9,120.6 473.7,113.2 474.7,107.0 475.6,110.0 476.4,115.0 477.3,110.8 478.1,113.0 479.0,110.1 479.9,104.9 480.7,101.7 481.6,109.0 482.5,100.0 483.7,96.4 484.8,96.8 486.0,93.6 486.8,92.1 487.6,90.7 488.8,91.6 489.7,101.6 490.8,95.6 492.0,100.8 493.2,102.7 493.8,100.0 494.5,97.4 495.5,105.1 496.2,104.4 496.8,103.3 497.6,103.9 498.4,104.6 499.5,106.6 500.7,110.4 501.8,107.7 502.6,108.4 503.8,104.0 504.9,101.4 505.7,100.8 506.4,100.3 507.3,100.9 508.2,100.8 509.0,100.7 509.9,101.6 510.7,101.8 511.4,102.5 512.6,106.1 513.3,107.2 514.0,107.9 514.8,107.6 515.7,107.6 516.6,106.2 517.4,105.5 518.3,105.0 519.2,105.2 520.0,104.5 520.9,104.2 521.8,104.1 522.6,104.4 523.4,103.6 524.1,102.6 524.9,105.0 525.8,107.2 526.7,106.3 527.6,106.1 528.3,105.5 529.0,105.6 530.0,101.1 531.2,101.8 532.3,99.9 533.2,98.4 534.0,101.2 535.2,99.6 536.4,97.9 537.2,97.3 538.1,96.0 539.0,96.9 539.8,97.3 540.7,97.6 541.6,98.6 542.7,99.1 543.6,97.8 544.5,97.3 545.3,96.8 546.2,96.1 547.1,94.5 547.9,92.5 548.8,92.0 549.7,90.9 550.5,90.3 551.4,90.5 552.3,89.9 553.1,88.9 554.0,88.4 554.9,88.4 555.7,89.0 556.6,89.2 557.5,89.8 558.3,89.8 559.2,89.3 560.1,89.3 560.9,88.9 561.8,89.1 562.7,88.9 563.5,88.7 564.4,88.8 565.3,88.3 566.1,88.4 567.0,88.1 567.9,88.3 568.7,88.3 569.6,87.8 570.5,87.4 571.3,86.6 572.2,86.1 573.1,85.5 573.9,84.6 574.8,84.4 575.7,84.9 576.5,85.0 577.4,85.1 578.3,84.7 579.1,84.8 580.0,84.7 580.9,84.0 581.7,83.4 582.6,83.8 583.5,84.3 584.3,84.5 585.2,84.9 586.1,86.1 586.9,86.0 587.8,86.0 588.7,85.1 589.5,84.9 590.4,85.3 591.3,85.7 592.1,86.5 593.0,87.4 593.9,87.6 594.7,88.7 595.6,89.1 596.5,89.3 597.3,88.8 598.2,87.8 599.1,88.1 599.9,88.3 600.8,88.9 601.7,88.9 602.5,89.9 603.4,90.3 604.3,90.9 605.1,91.2 606.0,90.5 606.9,90.4 607.7,91.3 608.6,91.6 609.7,91.4 610.8,91.1 611.7,90.6 612.5,90.4 613.4,90.7 614.3,91.2 615.1,92.0 616.0,91.8 616.9,92.8 617.7,93.2 618.6,92.2 619.5,92.0 620.3,92.7 621.2,93.9 622.1,94.5 622.9,94.8 624.1,95.5 625.0,95.2 625.8,94.9 626.7,94.7 627.6,94.5 628.4,94.6 629.3,95.1 630.2,95.2 631.0,94.9 631.9,94.8 632.8,94.4 633.6,94.1 634.5,93.9 635.4,93.6 636.2,94.2 637.1,93.3 638.0,93.1 638.8,92.9 639.7,92.6 640.6,92.4 641.4,92.9 642.3,92.4 643.2,92.1 644.0,92.3 644.9,92.5 645.8,91.7 646.6,91.5 647.5,92.0 648.4,92.0 649.0,91.6" fill="none" stroke="#0d0800" stroke-width="1" stroke-linejoin="round"/>
<polygon points="81.0,342.6 81.5,342.6 82.5,344.2 83.7,345.9 84.4,340.3 85.2,345.3 86.4,347.8 87.5,349.5 88.3,344.1 89.2,339.7 90.4,331.6 91.3,336.2 92.5,334.3 93.3,330.8 94.1,323.5 94.8,319.2 96.0,319.9 97.1,322.8 97.9,329.3 99.1,330.4 99.9,331.5 100.8,332.7 101.7,334.8 102.5,335.8 103.4,337.3 104.3,337.9 105.0,339.1 105.7,340.7 106.6,342.5 107.7,340.4 108.6,340.2 109.5,340.6 110.2,340.3 111.0,339.6 111.7,338.5 112.4,337.0 113.1,337.8 113.8,339.0 114.9,341.1 115.8,337.3 117.0,340.2 118.2,342.3 119.0,342.4 119.9,342.5 121.0,345.6 122.2,346.9 123.4,350.6 124.2,353.0 125.1,351.3 126.2,354.3 127.1,354.9 128.0,355.2 128.8,356.3 129.7,356.3 130.6,356.1 131.4,356.0 132.6,355.1 133.8,351.2 134.9,346.4 135.7,342.6 136.6,344.4 137.5,348.4 138.2,352.6 139.0,347.7 139.9,343.8 141.0,342.3 141.8,344.9 143.0,349.5 143.9,354.9 145.0,351.4 145.7,351.9 146.5,352.7 147.3,353.0 148.2,354.2 149.1,354.5 149.9,354.9 150.8,355.1 151.7,354.9 152.4,355.2 153.1,355.7 154.0,352.2 155.0,353.0 156.2,355.1 157.3,352.2 158.5,351.1 159.2,350.2 159.9,348.5 160.6,349.5 161.4,350.6 162.5,349.7 163.3,347.8 164.5,350.1 165.6,350.7 166.8,352.6 167.5,351.2 168.3,349.7 169.0,348.2 169.8,347.2 170.5,346.8 171.2,346.8 172.3,345.4 173.0,345.5 173.7,346.3 174.5,346.4 175.2,346.7 176.4,347.2 177.5,346.1 178.7,345.4 179.9,343.5 180.7,342.5 181.8,344.3 182.6,344.7 183.3,345.1 184.5,343.0 185.6,342.2 186.8,344.9 187.9,345.5 188.8,341.8 189.5,341.6 190.3,340.7 191.4,336.9 192.6,331.7 193.7,330.2 194.9,333.9 196.0,333.2 196.8,333.0 197.5,332.3 198.2,332.4 198.9,332.9 199.6,332.5 200.3,332.4 201.1,332.7 201.8,333.5 202.6,334.0 203.3,334.7 204.0,334.9 204.7,335.1 205.9,333.5 207.0,331.1 208.2,328.6 209.1,327.1 210.3,329.2 211.0,329.2 211.6,329.1 212.8,328.3 213.7,327.8 214.9,329.5 216.0,332.2 217.2,335.5 218.4,337.2 219.5,333.3 220.7,332.6 221.5,331.1 222.3,329.1 223.2,334.9 224.1,341.6 225.3,338.5 226.4,335.1 227.6,336.8 228.4,339.5 229.6,333.3 230.0,335.3 231.2,338.1 232.3,336.3 233.5,339.0 234.4,343.1 235.5,347.1 236.7,345.0 237.9,350.1 239.0,349.0 239.7,347.3 240.4,345.9 241.6,348.5 242.7,349.1 243.9,345.6 245.0,341.0 246.2,338.9 247.3,340.4 248.5,338.4 249.7,336.2 250.6,326.3 251.4,336.0 252.2,333.7 252.8,321.1 253.5,311.6 254.3,322.4 254.9,331.8 255.7,336.0 256.8,337.0 257.5,330.1 258.2,323.7 258.9,332.7 259.8,335.2 261.0,336.1 262.1,330.9 262.9,324.5 263.8,327.6 264.7,316.7 265.8,317.9 267.0,316.0 267.9,324.7 269.1,328.8 270.2,332.6 271.4,336.9 272.5,342.2 273.7,338.9 274.4,339.4 275.1,339.7 276.2,341.9 276.9,343.7 277.6,344.8 278.8,348.2 279.9,351.2 280.7,351.2 281.4,351.5 282.6,352.9 283.8,354.0 284.9,352.6 286.1,355.5 287.2,358.9 288.4,360.4 289.5,358.0 290.4,357.9 291.3,358.6 292.1,359.5 293.0,359.7 293.9,360.1 294.7,360.8 295.6,360.2 296.5,360.0 297.3,361.2 298.2,361.5 299.1,362.0 299.9,362.7 300.8,362.8 301.7,363.3 302.4,362.8 303.1,361.8 303.8,361.5 304.6,361.3 305.0,361.2 305.9,362.1 306.7,362.6 307.6,363.4 308.5,364.0 309.3,363.9 310.2,362.9 311.1,363.3 311.9,363.7 312.8,364.4 313.7,364.4 314.5,365.4 315.4,365.6 316.3,365.5 317.1,365.3 317.9,363.9 318.6,363.3 319.3,362.3 320.0,361.6 321.0,359.2 321.6,358.3 322.3,358.1 323.5,357.3 324.2,358.2 324.9,359.0 325.6,359.5 326.4,359.9 327.3,360.8 328.1,361.2 329.0,360.7 329.9,359.7 330.7,360.1 331.6,360.8 332.7,359.3 333.7,356.4 334.8,357.7 335.6,356.6 336.4,354.4 337.4,357.6 338.5,359.3 339.7,361.0 340.4,360.8 341.1,360.2 341.8,359.5 342.6,358.7 343.3,358.5 344.1,357.6 344.8,358.4 345.5,358.9 346.6,357.4 347.3,358.5 348.0,359.5 349.2,357.7 350.3,355.4 351.5,356.2 352.6,355.8 353.8,357.7 354.9,356.9 355.9,359.7 357.0,358.8 357.9,355.4 358.9,353.7 360.0,355.9 360.7,355.5 361.4,354.7 362.6,355.7 363.7,356.9 364.9,358.9 365.6,359.3 366.3,360.6 367.0,360.1 367.7,359.9 368.4,359.9 369.2,359.2 370.0,359.0 370.9,359.5 371.8,360.3 372.6,360.9 373.5,361.2 374.4,361.7 375.2,362.5 376.1,362.5 377.0,362.5 377.8,362.1 378.7,362.5 379.6,363.6 380.0,364.3 380.9,364.6 381.7,364.7 382.5,364.7 383.2,363.8 384.2,361.2 384.9,364.7 385.6,364.5 386.4,364.3 387.2,364.6 388.1,364.2 389.0,364.0 389.8,364.2 390.7,364.5 391.6,364.2 392.7,363.0 393.9,360.7 395.0,358.1 396.2,356.8 397.3,356.3 398.5,354.6 399.7,357.7 400.8,358.6 401.7,354.4 402.9,352.5 403.6,350.4 404.3,347.5 405.4,343.5 406.6,340.3 407.7,344.7 408.9,342.6 409.6,345.1 410.3,346.8 411.4,338.7 412.6,341.1 413.8,337.2 414.9,331.1 416.1,329.3 417.0,325.4 417.7,324.6 418.4,324.1 419.5,323.0 420.5,327.6 421.6,327.6 422.5,320.7 423.4,311.5 424.2,305.7 425.3,304.5 426.5,307.5 427.6,312.6 428.8,311.5 429.9,314.8 430.9,321.3 431.8,322.3 432.9,320.3 433.6,318.5 434.3,316.6 435.5,320.8 436.2,323.8 436.9,325.8 438.0,332.5 439.2,338.1 440.3,337.0 441.5,331.4 442.4,324.8 443.4,321.7 444.3,321.5 445.3,327.4 446.5,331.7 447.6,333.1 448.8,336.8 449.9,336.5 451.1,339.3 452.3,341.6 453.4,343.7 454.6,344.9 455.0,344.3 455.7,344.1 456.4,343.2 457.5,343.2 458.5,336.8 459.4,330.4 460.2,336.0 461.4,338.2 462.5,336.3 463.7,334.6 464.5,339.2 465.4,341.6 466.2,347.8 466.9,335.8 467.7,338.1 468.5,332.6 469.5,323.3 470.4,311.3 471.2,321.9 472.1,317.0 472.9,317.3 473.7,324.8 474.7,322.9 475.5,331.2 476.2,322.5 477.0,327.7 477.8,323.6 478.6,330.1 479.5,326.4 480.4,338.1 481.4,327.6 482.2,337.0 483.3,339.1 484.5,339.7 485.6,342.1 486.8,345.6 487.9,348.0 488.9,346.3 489.7,337.1 490.6,335.9 491.8,341.7 492.6,337.2 493.7,339.3 494.5,344.4 495.5,336.0 496.6,334.0 497.8,334.8 498.9,337.1 499.6,335.0 500.3,333.9 501.5,335.4 502.6,335.9 503.6,340.6 504.5,344.1 505.6,345.5 506.3,345.4 507.0,345.1 507.7,345.9 508.4,346.4 509.2,345.6 509.9,344.5 511.1,342.9 512.2,339.4 513.4,338.0 514.5,336.9 515.7,336.2 516.4,336.5 517.2,337.2 518.4,339.7 519.0,339.9 519.7,339.3 520.4,340.1 521.1,340.7 522.3,342.9 523.4,343.3 524.6,339.1 525.8,336.0 526.9,337.7 527.7,337.4 528.4,337.2 529.6,340.0 530.0,342.0 530.7,342.0 531.4,341.5 532.5,345.4 533.7,342.6 534.5,343.4 535.2,343.5 536.4,346.3 537.5,348.7 538.3,349.4 539.0,350.2 539.7,350.5 540.4,350.9 541.3,350.2 542.1,349.1 542.9,349.5 543.6,349.5 544.3,348.8 545.0,348.4 545.7,349.6 546.4,350.1 547.6,352.6 548.7,355.2 549.5,355.9 550.2,357.1 551.1,358.1 552.0,358.8 552.8,359.4 553.7,359.7 554.5,359.1 555.2,358.3 555.9,358.0 556.6,357.6 557.7,356.2 558.9,356.7 559.8,358.9 560.6,356.2 561.8,358.1 562.5,358.0 563.3,357.9 564.0,357.8 564.7,357.1 565.4,357.7 566.1,358.5 567.2,357.9 568.4,359.7 569.1,360.1 569.9,360.1 571.0,361.8 572.2,361.2 573.0,363.4 573.9,366.0 574.9,359.5 575.8,364.8 576.8,364.2 577.6,363.6 578.3,363.7 579.0,364.4 579.7,365.1 580.9,366.6 582.0,366.1 582.7,364.8 583.4,363.4 584.3,365.7 585.5,367.2 586.6,361.7 587.6,364.8 588.7,363.9 589.7,361.9 590.7,364.8 591.8,362.8 593.0,361.2 593.8,360.7 594.5,360.2 595.2,359.8 595.9,359.8 596.6,360.3 597.3,361.2 598.0,361.5 598.8,361.7 599.5,361.0 600.3,360.2 601.0,360.3 601.7,360.8 602.4,359.9 603.1,358.2 603.8,358.4 604.6,357.6 605.4,357.4 606.3,357.5 607.2,357.7 608.0,358.3 608.8,358.9 609.7,358.8 610.5,359.0 611.4,359.0 612.3,359.0 613.1,358.5 613.8,358.0 614.5,357.6 615.3,357.5 616.0,358.4 617.2,356.0 617.9,356.8 618.7,357.2 619.4,357.3 620.1,357.6 620.8,357.4 621.4,356.2 622.2,355.6 622.9,354.8 624.1,354.0 625.0,354.5 625.8,354.7 626.7,354.5 627.6,354.9 628.4,354.3 629.3,354.1 630.2,353.8 631.0,353.6 631.9,353.7 632.8,354.2 633.6,354.7 634.5,354.5 635.4,354.2 636.2,354.4 637.1,355.0 638.0,354.8 638.8,354.7 639.7,355.1 640.6,355.0 641.4,355.4 642.3,355.0 643.2,355.1 644.0,355.4 644.9,356.0 645.8,356.7 646.4,356.9 646.4,369.5 645.8,369.7 644.9,370.3 644.0,370.3 643.2,369.8 642.3,370.1 641.4,370.5 640.6,370.0 639.7,370.3 638.8,370.6 638.0,370.5 637.1,370.6 636.2,371.2 635.4,370.5 634.5,370.8 633.6,370.7 632.8,371.2 631.9,371.0 631.0,371.6 630.2,371.4 629.3,371.7 628.4,371.9 627.6,371.4 626.7,371.2 625.8,371.4 625.0,371.5 624.1,372.4 623.2,372.1 622.4,371.6 621.5,371.5 620.6,371.0 619.8,370.9 618.9,370.3 618.0,370.4 617.2,370.8 616.3,370.7 615.4,370.2 614.6,370.1 613.7,370.0 612.8,369.9 612.0,369.2 611.1,370.0 610.2,370.1 609.4,369.7 608.6,369.7 607.7,369.8 606.9,369.2 606.0,369.4 605.1,369.7 604.3,369.1 603.4,368.9 602.5,369.0 601.7,368.2 600.8,367.8 599.9,367.1 599.1,367.5 598.2,367.6 597.3,368.1 596.5,367.9 595.6,368.0 594.7,367.4 593.9,367.6 593.0,368.1 592.1,367.8 591.3,367.4 590.4,367.3 589.5,367.1 588.7,367.7 587.8,367.7 586.9,367.8 586.1,367.9 585.2,367.5 584.3,367.3 583.5,367.2 582.6,367.0 581.7,367.4 580.9,367.2 580.0,367.5 579.1,367.6 578.3,367.6 577.4,367.1 576.5,366.8 575.7,366.7 574.8,366.4 573.9,366.3 573.2,366.7 572.5,366.7 571.8,367.1 571.0,367.8 570.2,368.0 569.3,367.7 568.4,367.3 567.6,367.0 566.7,366.8 565.8,366.8 565.0,367.0 564.1,367.1 563.2,367.5 562.4,367.9 561.5,367.9 560.6,368.2 559.8,368.4 558.9,368.7 558.0,368.9 557.2,368.1 556.3,368.2 555.4,368.0 554.6,367.7 553.7,368.1 552.8,368.6 552.0,368.6 551.1,369.2 550.2,369.1 549.4,369.5 548.5,369.7 547.6,370.2 546.8,370.4 545.9,370.6 545.0,371.3 544.3,371.5 543.6,372.3 542.9,373.3 542.1,373.3 541.3,372.4 540.4,371.8 539.5,371.9 538.7,371.1 537.8,370.3 536.9,370.6 536.1,370.5 535.2,370.1 534.3,370.5 533.5,370.8 532.6,371.0 531.7,371.6 530.9,372.4 530.0,372.5 529.0,373.6 528.3,374.1 527.6,374.7 526.7,374.2 525.8,374.6 524.9,374.3 524.1,373.8 523.4,374.6 522.6,374.8 521.8,374.7 520.9,374.3 520.0,374.2 519.2,374.5 518.3,375.1 517.4,374.9 516.6,375.2 515.7,375.7 514.8,375.8 514.0,376.6 513.3,375.9 512.6,375.8 511.4,374.2 510.7,373.8 509.9,373.7 509.0,373.6 508.2,373.7 507.3,373.5 506.4,373.5 505.7,373.5 504.9,373.9 503.8,374.7 502.6,375.8 501.8,375.2 500.7,376.8 499.5,374.6 498.4,372.8 497.6,372.1 496.8,370.6 496.2,371.9 495.5,373.1 494.5,368.5 493.8,370.2 493.2,371.7 492.0,370.3 490.8,367.0 489.7,370.0 488.8,365.5 487.6,364.0 486.8,364.7 486.0,365.4 484.8,365.0 483.7,366.2 482.5,367.8 481.6,372.2 480.7,369.6 479.9,371.0 479.0,373.7 478.1,375.3 477.3,374.0 476.4,376.0 475.6,374.2 474.7,371.7 473.7,375.1 472.9,378.9 472.1,376.9 471.2,379.5 470.4,383.3 469.5,378.6 468.6,375.9 467.7,371.3 466.8,373.1 466.0,368.7 464.8,373.5 463.7,375.7 462.5,374.8 461.4,374.5 460.2,375.3 459.4,377.5 458.5,374.8 457.5,373.2 456.4,374.1 455.7,374.1 455.0,373.7 454.6,374.6 453.4,375.7 452.7,376.2 451.9,376.7 451.2,377.5 450.5,378.3 449.8,377.5 449.1,376.8 448.4,376.9 447.6,377.5 446.9,378.7 446.1,379.4 445.0,381.5 443.8,384.6 442.7,380.9 441.5,377.6 440.3,373.4 439.2,374.5 438.0,376.8 436.9,379.4 435.7,381.2 435.0,380.1 434.3,379.8 433.6,379.7 432.9,378.7 431.8,377.4 430.6,377.1 429.7,381.0 428.6,383.9 427.4,385.6 426.2,387.3 425.1,386.7 424.4,385.7 423.7,383.8 422.5,379.8 421.4,377.7 420.5,380.5 419.5,384.5 418.4,382.2 417.7,381.3 417.0,379.9 416.3,378.8 415.6,377.4 414.9,376.4 414.1,375.6 413.2,375.8 412.4,375.3 411.7,374.3 411.0,373.6 410.2,372.1 409.5,371.4 408.6,371.2 407.7,371.8 406.9,371.7 406.0,372.2 405.1,371.8 404.3,371.0 403.4,371.2 402.5,371.9 401.7,370.8 400.8,370.2 399.9,370.6 399.1,371.4 398.2,370.5 397.3,369.4 396.5,368.6 395.6,368.4 394.7,368.0 393.9,367.0 393.0,367.8 392.1,367.6 391.3,367.6 390.4,367.4 389.5,367.3 388.7,367.6 387.8,367.5 386.9,367.2 386.1,367.5 385.2,367.5 384.3,367.5 383.5,366.7 382.6,366.8 381.7,367.3 380.9,367.0 380.0,366.8 379.6,366.4 378.7,366.0 377.8,366.4 377.0,366.9 376.1,366.9 375.2,366.8 374.4,367.7 373.7,368.0 373.0,368.3 372.1,368.7 371.1,368.3 370.3,369.1 369.5,368.9 368.8,368.7 368.0,368.3 367.1,367.9 366.3,368.1 365.6,367.5 364.9,367.1 364.1,368.2 363.4,368.6 362.2,369.7 361.1,371.0 360.3,371.7 359.6,371.7 358.9,371.3 358.2,370.6 357.0,369.3 355.9,368.2 354.9,369.9 353.8,369.3 352.6,368.5 351.9,369.8 351.2,370.5 350.3,369.2 349.2,367.8 348.5,367.2 347.8,365.9 346.9,365.8 346.0,366.2 345.2,366.9 344.3,366.7 343.4,366.5 342.6,366.0 341.7,365.4 340.8,365.1 340.0,365.4 339.1,365.5 337.9,366.6 336.8,368.7 336.0,367.3 334.8,367.8 333.9,369.2 332.7,367.5 331.9,367.2 331.0,366.4 330.1,366.5 329.3,366.9 328.4,367.5 327.5,367.5 326.7,368.1 325.8,367.8 324.9,368.2 324.1,368.6 323.2,368.2 322.3,368.1 321.5,367.9 320.6,368.4 319.7,367.5 318.9,367.6 318.0,367.3 317.1,367.2 316.3,366.9 315.4,367.2 314.5,366.8 313.7,366.8 312.8,366.5 311.9,366.6 311.1,365.8 310.2,366.1 309.3,366.0 308.5,366.1 307.6,366.5 306.7,366.2 305.9,366.5 305.0,366.4 304.6,365.6 303.4,366.3 302.3,366.5 301.5,366.5 300.8,367.0 299.9,366.5 299.1,365.7 298.2,364.7 297.1,364.5 295.9,363.6 294.7,363.2 293.6,363.3 292.7,363.5 291.8,364.2 291.0,364.8 290.1,364.7 289.2,365.6 288.4,365.9 287.5,366.3 286.6,366.2 285.8,367.0 284.9,367.4 284.0,367.4 283.2,366.7 282.3,367.0 281.4,367.7 280.6,368.4 279.7,368.3 278.8,368.7 278.0,369.3 277.1,369.7 276.2,369.7 275.4,370.1 274.5,371.4 273.6,371.6 272.8,372.4 271.9,372.0 271.0,372.2 270.2,371.9 269.3,371.8 268.6,372.5 267.9,372.9 267.0,377.1 266.1,376.0 265.0,377.1 264.2,372.5 263.3,373.4 262.1,371.4 261.0,369.5 259.8,369.0 258.7,372.4 257.7,376.9 256.6,370.0 255.4,368.2 254.3,370.5 253.5,376.4 252.5,369.9 251.7,367.7 250.8,363.6 249.9,367.8 249.1,368.3 248.2,368.8 247.3,369.8 246.5,370.0 245.6,371.2 244.7,370.2 243.9,368.5 243.0,367.9 242.1,367.8 241.3,367.6 240.4,367.4 239.5,367.6 238.7,367.9 237.8,367.8 236.9,367.6 236.1,367.4 235.2,366.6 234.3,365.9 233.5,366.0 232.6,365.7 231.7,365.3 230.9,365.4 230.0,365.6 229.0,366.0 228.1,366.8 227.3,367.0 226.4,367.6 225.5,368.6 224.8,369.4 224.0,370.6 223.3,369.5 222.6,367.6 221.9,368.0 221.1,368.7 220.4,369.8 219.7,370.5 219.0,371.9 218.4,373.1 217.6,374.2 216.8,374.8 216.1,376.4 215.3,377.5 214.7,377.8 214.0,377.7 213.1,377.9 212.2,377.3 211.4,376.7 210.5,376.3 209.8,376.9 209.1,377.4 208.4,377.3 207.6,376.4 206.7,376.1 205.9,375.3 205.0,375.3 204.1,374.7 203.3,374.5 202.4,374.3 201.7,375.4 201.0,376.1 200.3,376.4 199.5,376.8 198.6,376.0 197.8,375.2 196.9,375.1 196.0,374.8 194.9,372.2 194.0,373.5 193.2,374.5 192.3,374.8 191.4,375.3 190.5,374.3 189.7,373.9 188.8,373.8 187.9,373.2 187.1,373.4 186.2,373.1 185.3,372.3 184.5,372.0 183.6,371.6 182.7,370.5 181.9,370.6 181.0,370.1 180.1,370.6 179.3,370.5 178.4,370.3 177.5,369.7 176.7,369.8 175.8,369.3 174.9,369.9 174.1,369.7 173.2,369.9 172.3,370.2 171.5,369.9 170.6,369.8 169.7,369.3 168.9,368.8 168.0,368.4 167.1,367.3 166.3,367.9 165.4,369.1 164.5,369.4 163.7,370.2 162.8,369.3 161.9,369.0 161.1,368.5 160.2,368.5 159.3,368.7 158.5,369.4 157.6,369.3 156.7,369.1 155.9,369.6 155.0,369.8 154.6,370.0 153.7,369.1 152.8,368.5 152.0,368.4 151.1,367.9 150.2,367.9 149.4,367.7 148.5,368.0 147.6,367.9 146.8,368.2 145.9,368.5 145.0,367.6 144.2,367.1 143.3,367.6 142.4,367.8 141.3,363.8 140.3,364.2 139.5,368.7 138.4,367.9 137.2,366.2 136.1,363.8 134.9,366.1 133.8,366.8 132.9,366.1 132.0,365.5 131.2,365.2 130.3,364.8 129.4,365.3 128.6,366.0 127.7,366.2 126.8,365.8 126.0,366.1 125.1,366.7 124.4,366.5 123.7,366.1 122.9,367.0 122.2,367.3 121.0,368.5 120.2,368.9 119.3,368.9 118.4,368.7 117.6,368.2 116.8,368.3 116.1,368.8 115.4,370.0 114.7,370.7 113.5,372.5 112.7,372.9 111.8,372.9 110.9,372.2 110.1,371.7 109.2,372.2 108.3,372.3 107.5,373.0 106.6,372.9 105.7,373.3 104.9,374.0 104.0,373.5 103.1,373.5 102.3,373.5 101.4,373.9 100.6,373.1 99.9,372.2 99.2,373.1 98.5,373.7 97.3,375.3 96.2,377.4 95.5,378.0 94.8,378.6 93.6,377.2 92.9,376.0 92.1,374.7 91.0,373.4 89.8,374.8 88.7,373.2 87.8,371.8 86.9,371.1 86.1,371.1 85.2,371.0 84.0,372.6 82.9,370.7 82.2,370.7 81.5,371.2 81.0,371.2" fill="#ff9c06"/><polygon points="646.4,356.9 646.6,356.9 647.5,356.5 648.4,356.3 649.0,356.4 649.0,369.7 648.4,369.9 647.5,369.9 646.6,369.4 646.4,369.5" fill="#ffff00"/><polyline points="81.5,342.6 82.5,344.2 83.7,345.9 84.4,340.3 85.2,345.3 86.4,347.8 87.5,349.5 88.3,344.1 89.2,339.7 90.4,331.6 91.3,336.2 92.5,334.3 93.3,330.8 94.1,323.5 94.8,319.2 96.0,319.9 97.1,322.8 97.9,329.3 99.1,330.4 99.9,331.5 100.8,332.7 101.7,334.8 102.5,335.8 103.4,337.3 104.3,337.9 105.0,339.1 105.7,340.7 106.6,342.5 107.7,340.4 108.6,340.2 109.5,340.6 110.2,340.3 111.0,339.6 111.7,338.5 112.4,337.0 113.1,337.8 113.8,339.0 114.9,341.1 115.8,337.3 117.0,340.2 118.2,342.3 119.0,342.4 119.9,342.5 121.0,345.6 122.2,346.9 123.4,350.6 124.2,353.0 125.1,351.3 126.2,354.3 127.1,354.9 128.0,355.2 128.8,356.3 129.7,356.3 130.6,356.1 131.4,356.0 132.6,355.1 133.8,351.2 134.9,346.4 135.7,342.6 136.6,344.4 137.5,348.4 138.2,352.6 139.0,347.7 139.9,343.8 141.0,342.3 141.8,344.9 143.0,349.5 143.9,354.9 145.0,351.4 145.7,351.9 146.5,352.7 147.3,353.0 148.2,354.2 149.1,354.5 149.9,354.9 150.8,355.1 151.7,354.9 152.4,355.2 153.1,355.7 154.0,352.2 155.0,353.0 156.2,355.1 157.3,352.2 158.5,351.1 159.2,350.2 159.9,348.5 160.6,349.5 161.4,350.6 162.5,349.7 163.3,347.8 164.5,350.1 165.6,350.7 166.8,352.6 167.5,351.2 168.3,349.7 169.0,348.2 169.8,347.2 170.5,346.8 171.2,346.8 172.3,345.4 173.0,345.5 173.7,346.3 174.5,346.4 175.2,346.7 176.4,347.2 177.5,346.1 178.7,345.4 179.9,343.5 180.7,342.5 181.8,344.3 182.6,344.7 183.3,345.1 184.5,343.0 185.6,342.2 186.8,344.9 187.9,345.5 188.8,341.8 189.5,341.6 190.3,340.7 191.4,336.9 192.6,331.7 193.7,330.2 194.9,333.9 196.0,333.2 196.8,333.0 197.5,332.3 198.2,332.4 198.9,332.9 199.6,332.5 200.3,332.4 201.1,332.7 201.8,333.5 202.6,334.0 203.3,334.7 204.0,334.9 204.7,335.1 205.9,333.5 207.0,331.1 208.2,328.6 209.1,327.1 210.3,329.2 211.0,329.2 211.6,329.1 212.8,328.3 213.7,327.8 214.9,329.5 216.0,332.2 217.2,335.5 218.4,337.2 219.5,333.3 220.7,332.6 221.5,331.1 222.3,329.1 223.2,334.9 224.1,341.6 225.3,338.5 226.4,335.1 227.6,336.8 228.4,339.5 229.6,333.3 230.0,335.3 231.2,338.1 232.3,336.3 233.5,339.0 234.4,343.1 235.5,347.1 236.7,345.0 237.9,350.1 239.0,349.0 239.7,347.3 240.4,345.9 241.6,348.5 242.7,349.1 243.9,345.6 245.0,341.0 246.2,338.9 247.3,340.4 248.5,338.4 249.7,336.2 250.6,326.3 251.4,336.0 252.2,333.7 252.8,321.1 253.5,311.6 254.3,322.4 254.9,331.8 255.7,336.0 256.8,337.0 257.5,330.1 258.2,323.7 258.9,332.7 259.8,335.2 261.0,336.1 262.1,330.9 262.9,324.5 263.8,327.6 264.7,316.7 265.8,317.9 267.0,316.0 267.9,324.7 269.1,328.8 270.2,332.6 271.4,336.9 272.5,342.2 273.7,338.9 274.4,339.4 275.1,339.7 276.2,341.9 276.9,343.7 277.6,344.8 278.8,348.2 279.9,351.2 280.7,351.2 281.4,351.5 282.6,352.9 283.8,354.0 284.9,352.6 286.1,355.5 287.2,358.9 288.4,360.4 289.5,358.0 290.4,357.9 291.3,358.6 292.1,359.5 293.0,359.7 293.9,360.1 294.7,360.8 295.6,360.2 296.5,360.0 297.3,361.2 298.2,361.5 299.1,362.0 299.9,362.7 300.8,362.8 301.7,363.3 302.4,362.8 303.1,361.8 303.8,361.5 304.6,361.3 305.0,361.2 305.9,362.1 306.7,362.6 307.6,363.4 308.5,364.0 309.3,363.9 310.2,362.9 311.1,363.3 311.9,363.7 312.8,364.4 313.7,364.4 314.5,365.4 315.4,365.6 316.3,365.5 317.1,365.3 317.9,363.9 318.6,363.3 319.3,362.3 320.0,361.6 321.0,359.2 321.6,358.3 322.3,358.1 323.5,357.3 324.2,358.2 324.9,359.0 325.6,359.5 326.4,359.9 327.3,360.8 328.1,361.2 329.0,360.7 329.9,359.7 330.7,360.1 331.6,360.8 332.7,359.3 333.7,356.4 334.8,357.7 335.6,356.6 336.4,354.4 337.4,357.6 338.5,359.3 339.7,361.0 340.4,360.8 341.1,360.2 341.8,359.5 342.6,358.7 343.3,358.5 344.1,357.6 344.8,358.4 345.5,358.9 346.6,357.4 347.3,358.5 348.0,359.5 349.2,357.7 350.3,355.4 351.5,356.2 352.6,355.8 353.8,357.7 354.9,356.9 355.9,359.7 357.0,358.8 357.9,355.4 358.9,353.7 360.0,355.9 360.7,355.5 361.4,354.7 362.6,355.7 363.7,356.9 364.9,358.9 365.6,359.3 366.3,360.6 367.0,360.1 367.7,359.9 368.4,359.9 369.2,359.2 370.0,359.0 370.9,359.5 371.8,360.3 372.6,360.9 373.5,361.2 374.4,361.7 375.2,362.5 376.1,362.5 377.0,362.5 377.8,362.1 378.7,362.5 379.6,363.6 380.0,364.3 380.9,364.6 381.7,364.7 382.5,364.7 383.2,363.8 384.2,361.2 384.9,364.7 385.6,364.5 386.4,364.3 387.2,364.6 388.1,364.2 389.0,364.0 389.8,364.2 390.7,364.5 391.6,364.2 392.7,363.0 393.9,360.7 395.0,358.1 396.2,356.8 397.3,356.3 398.5,354.6 399.7,357.7 400.8,358.6 401.7,354.4 402.9,352.5 403.6,350.4 404.3,347.5 405.4,343.5 406.6,340.3 407.7,344.7 408.9,342.6 409.6,345.1 410.3,346.8 411.4,338.7 412.6,341.1 413.8,337.2 414.9,331.1 416.1,329.3 417.0,325.4 417.7,324.6 418.4,324.1 419.5,323.0 420.5,327.6 421.6,327.6 422.5,320.7 423.4,311.5 424.2,305.7 425.3,304.5 426.5,307.5 427.6,312.6 428.8,311.5 429.9,314.8 430.9,321.3 431.8,322.3 432.9,320.3 433.6,318.5 434.3,316.6 435.5,320.8 436.2,323.8 436.9,325.8 438.0,332.5 439.2,338.1 440.3,337.0 441.5,331.4 442.4,324.8 443.4,321.7 444.3,321.5 445.3,327.4 446.5,331.7 447.6,333.1 448.8,336.8 449.9,336.5 451.1,339.3 452.3,341.6 453.4,343.7 454.6,344.9 455.0,344.3 455.7,344.1 456.4,343.2 457.5,343.2 458.5,336.8 459.4,330.4 460.2,336.0 461.4,338.2 462.5,336.3 463.7,334.6 464.5,339.2 465.4,341.6 466.2,347.8 466.9,335.8 467.7,338.1 468.5,332.6 469.5,323.3 470.4,311.3 471.2,321.9 472.1,317.0 472.9,317.3 473.7,324.8 474.7,322.9 475.5,331.2 476.2,322.5 477.0,327.7 477.8,323.6 478.6,330.1 479.5,326.4 480.4,338.1 481.4,327.6 482.2,337.0 483.3,339.1 484.5,339.7 485.6,342.1 486.8,345.6 487.9,348.0 488.9,346.3 489.7,337.1 490.6,335.9 491.8,341.7 492.6,337.2 493.7,339.3 494.5,344.4 495.5,336.0 496.6,334.0 497.8,334.8 498.9,337.1 499.6,335.0 500.3,333.9 501.5,335.4 502.6,335.9 503.6,340.6 504.5,344.1 505.6,345.5 506.3,345.4 507.0,345.1 507.7,345.9 508.4,346.4 509.2,345.6 509.9,344.5 511.1,342.9 512.2,339.4 513.4,338.0 514.5,336.9 515.7,336.2 516.4,336.5 517.2,337.2 518.4,339.7 519.0,339.9 519.7,339.3 520.4,340.1 521.1,340.7 522.3,342.9 523.4,343.3 524.6,339.1 525.8,336.0 526.9,337.7 527.7,337.4 528.4,337.2 529.6,340.0 530.0,342.0 530.7,342.0 531.4,341.5 532.5,345.4 533.7,342.6 534.5,343.4 535.2,343.5 536.4,346.3 537.5,348.7 538.3,349.4 539.0,350.2 539.7,350.5 540.4,350.9 541.3,350.2 542.1,349.1 542.9,349.5 543.6,349.5 544.3,348.8 545.0,348.4 545.7,349.6 546.4,350.1 547.6,352.6 548.7,355.2 549.5,355.9 550.2,357.1 551.1,358.1 552.0,358.8 552.8,359.4 553.7,359.7 554.5,359.1 555.2,358.3 555.9,358.0 556.6,357.6 557.7,356.2 558.9,356.7 559.8,358.9 560.6,356.2 561.8,358.1 562.5,358.0 563.3,357.9 564.0,357.8 564.7,357.1 565.4,357.7 566.1,358.5 567.2,357.9 568.4,359.7 569.1,360.1 569.9,360.1 571.0,361.8 572.2,361.2 573.0,363.4 573.9,366.0 574.9,359.5 575.8,364.8 576.8,364.2 577.6,363.6 578.3,363.7 579.0,364.4 579.7,365.1 580.9,366.6 582.0,366.1 582.7,364.8 583.4,363.4 584.3,365.7 585.5,367.2 586.6,361.7 587.6,364.8 588.7,363.9 589.7,361.9 590.7,364.8 591.8,362.8 593.0,361.2 593.8,360.7 594.5,360.2 595.2,359.8 595.9,359.8 596.6,360.3 597.3,361.2 598.0,361.5 598.8,361.7 599.5,361.0 600.3,360.2 601.0,360.3 601.7,360.8 602.4,359.9 603.1,358.2 603.8,358.4 604.6,357.6 605.4,357.4 606.3,357.5 607.2,357.7 608.0,358.3 608.8,358.9 609.7,358.8 610.5,359.0 611.4,359.0 612.3,359.0 613.1,358.5 613.8,358.0 614.5,357.6 615.3,357.5 616.0,358.4 617.2,356.0 617.9,356.8 618.7,357.2 619.4,357.3 620.1,357.6 620.8,357.4 621.4,356.2 622.2,355.6 622.9,354.8 624.1,354.0 625.0,354.5 625.8,354.7 626.7,354.5 627.6,354.9 628.4,354.3 629.3,354.1 630.2,353.8 631.0,353.6 631.9,353.7 632.8,354.2 633.6,354.7 634.5,354.5 635.4,354.2 636.2,354.4 637.1,355.0 638.0,354.8 638.8,354.7 639.7,355.1 640.6,355.0 641.4,355.4 642.3,355.0 643.2,355.1 644.0,355.4 644.9,356.0 645.8,356.7 646.6,356.9 647.5,356.5 648.4,356.3 649.0,356.4" fill="none" stroke="#0d0800" stroke-width="1" stroke-linejoin="round"/><polyline points="81.5,371.2 82.2,370.7 82.9,370.7 84.0,372.6 85.2,371.0 86.1,371.1 86.9,371.1 87.8,371.8 88.7,373.2 89.8,374.8 91.0,373.4 92.1,374.7 92.9,376.0 93.6,377.2 94.8,378.6 95.5,378.0 96.2,377.4 97.3,375.3 98.5,373.7 99.2,373.1 99.9,372.2 100.6,373.1 101.4,373.9 102.3,373.5 103.1,373.5 104.0,373.5 104.9,374.0 105.7,373.3 106.6,372.9 107.5,373.0 108.3,372.3 109.2,372.2 110.1,371.7 110.9,372.2 111.8,372.9 112.7,372.9 113.5,372.5 114.7,370.7 115.4,370.0 116.1,368.8 116.8,368.3 117.6,368.2 118.4,368.7 119.3,368.9 120.2,368.9 121.0,368.5 122.2,367.3 122.9,367.0 123.7,366.1 124.4,366.5 125.1,366.7 126.0,366.1 126.8,365.8 127.7,366.2 128.6,366.0 129.4,365.3 130.3,364.8 131.2,365.2 132.0,365.5 132.9,366.1 133.8,366.8 134.9,366.1 136.1,363.8 137.2,366.2 138.4,367.9 139.5,368.7 140.3,364.2 141.3,363.8 142.4,367.8 143.3,367.6 144.2,367.1 145.0,367.6 145.9,368.5 146.8,368.2 147.6,367.9 148.5,368.0 149.4,367.7 150.2,367.9 151.1,367.9 152.0,368.4 152.8,368.5 153.7,369.1 154.6,370.0 155.0,369.8 155.9,369.6 156.7,369.1 157.6,369.3 158.5,369.4 159.3,368.7 160.2,368.5 161.1,368.5 161.9,369.0 162.8,369.3 163.7,370.2 164.5,369.4 165.4,369.1 166.3,367.9 167.1,367.3 168.0,368.4 168.9,368.8 169.7,369.3 170.6,369.8 171.5,369.9 172.3,370.2 173.2,369.9 174.1,369.7 174.9,369.9 175.8,369.3 176.7,369.8 177.5,369.7 178.4,370.3 179.3,370.5 180.1,370.6 181.0,370.1 181.9,370.6 182.7,370.5 183.6,371.6 184.5,372.0 185.3,372.3 186.2,373.1 187.1,373.4 187.9,373.2 188.8,373.8 189.7,373.9 190.5,374.3 191.4,375.3 192.3,374.8 193.2,374.5 194.0,373.5 194.9,372.2 196.0,374.8 196.9,375.1 197.8,375.2 198.6,376.0 199.5,376.8 200.3,376.4 201.0,376.1 201.7,375.4 202.4,374.3 203.3,374.5 204.1,374.7 205.0,375.3 205.9,375.3 206.7,376.1 207.6,376.4 208.4,377.3 209.1,377.4 209.8,376.9 210.5,376.3 211.4,376.7 212.2,377.3 213.1,377.9 214.0,377.7 214.7,377.8 215.3,377.5 216.1,376.4 216.8,374.8 217.6,374.2 218.4,373.1 219.0,371.9 219.7,370.5 220.4,369.8 221.1,368.7 221.9,368.0 222.6,367.6 223.3,369.5 224.0,370.6 224.8,369.4 225.5,368.6 226.4,367.6 227.3,367.0 228.1,366.8 229.0,366.0 230.0,365.6 230.9,365.4 231.7,365.3 232.6,365.7 233.5,366.0 234.3,365.9 235.2,366.6 236.1,367.4 236.9,367.6 237.8,367.8 238.7,367.9 239.5,367.6 240.4,367.4 241.3,367.6 242.1,367.8 243.0,367.9 243.9,368.5 244.7,370.2 245.6,371.2 246.5,370.0 247.3,369.8 248.2,368.8 249.1,368.3 249.9,367.8 250.8,363.6 251.7,367.7 252.5,369.9 253.5,376.4 254.3,370.5 255.4,368.2 256.6,370.0 257.7,376.9 258.7,372.4 259.8,369.0 261.0,369.5 262.1,371.4 263.3,373.4 264.2,372.5 265.0,377.1 266.1,376.0 267.0,377.1 267.9,372.9 268.6,372.5 269.3,371.8 270.2,371.9 271.0,372.2 271.9,372.0 272.8,372.4 273.6,371.6 274.5,371.4 275.4,370.1 276.2,369.7 277.1,369.7 278.0,369.3 278.8,368.7 279.7,368.3 280.6,368.4 281.4,367.7 282.3,367.0 283.2,366.7 284.0,367.4 284.9,367.4 285.8,367.0 286.6,366.2 287.5,366.3 288.4,365.9 289.2,365.6 290.1,364.7 291.0,364.8 291.8,364.2 292.7,363.5 293.6,363.3 294.7,363.2 295.9,363.6 297.1,364.5 298.2,364.7 299.1,365.7 299.9,366.5 300.8,367.0 301.5,366.5 302.3,366.5 303.4,366.3 304.6,365.6 305.0,366.4 305.9,366.5 306.7,366.2 307.6,366.5 308.5,366.1 309.3,366.0 310.2,366.1 311.1,365.8 311.9,366.6 312.8,366.5 313.7,366.8 314.5,366.8 315.4,367.2 316.3,366.9 317.1,367.2 318.0,367.3 318.9,367.6 319.7,367.5 320.6,368.4 321.5,367.9 322.3,368.1 323.2,368.2 324.1,368.6 324.9,368.2 325.8,367.8 326.7,368.1 327.5,367.5 328.4,367.5 329.3,366.9 330.1,366.5 331.0,366.4 331.9,367.2 332.7,367.5 333.9,369.2 334.8,367.8 336.0,367.3 336.8,368.7 337.9,366.6 339.1,365.5 340.0,365.4 340.8,365.1 341.7,365.4 342.6,366.0 343.4,366.5 344.3,366.7 345.2,366.9 346.0,366.2 346.9,365.8 347.8,365.9 348.5,367.2 349.2,367.8 350.3,369.2 351.2,370.5 351.9,369.8 352.6,368.5 353.8,369.3 354.9,369.9 355.9,368.2 357.0,369.3 358.2,370.6 358.9,371.3 359.6,371.7 360.3,371.7 361.1,371.0 362.2,369.7 363.4,368.6 364.1,368.2 364.9,367.1 365.6,367.5 366.3,368.1 367.1,367.9 368.0,368.3 368.8,368.7 369.5,368.9 370.3,369.1 371.1,368.3 372.1,368.7 373.0,368.3 373.7,368.0 374.4,367.7 375.2,366.8 376.1,366.9 377.0,366.9 377.8,366.4 378.7,366.0 379.6,366.4 380.0,366.8 380.9,367.0 381.7,367.3 382.6,366.8 383.5,366.7 384.3,367.5 385.2,367.5 386.1,367.5 386.9,367.2 387.8,367.5 388.7,367.6 389.5,367.3 390.4,367.4 391.3,367.6 392.1,367.6 393.0,367.8 393.9,367.0 394.7,368.0 395.6,368.4 396.5,368.6 397.3,369.4 398.2,370.5 399.1,371.4 399.9,370.6 400.8,370.2 401.7,370.8 402.5,371.9 403.4,371.2 404.3,371.0 405.1,371.8 406.0,372.2 406.9,371.7 407.7,371.8 408.6,371.2 409.5,371.4 410.2,372.1 411.0,373.6 411.7,374.3 412.4,375.3 413.2,375.8 414.1,375.6 414.9,376.4 415.6,377.4 416.3,378.8 417.0,379.9 417.7,381.3 418.4,382.2 419.5,384.5 420.5,380.5 421.4,377.7 422.5,379.8 423.7,383.8 424.4,385.7 425.1,386.7 426.2,387.3 427.4,385.6 428.6,383.9 429.7,381.0 430.6,377.1 431.8,377.4 432.9,378.7 433.6,379.7 434.3,379.8 435.0,380.1 435.7,381.2 436.9,379.4 438.0,376.8 439.2,374.5 440.3,373.4 441.5,377.6 442.7,380.9 443.8,384.6 445.0,381.5 446.1,379.4 446.9,378.7 447.6,377.5 448.4,376.9 449.1,376.8 449.8,377.5 450.5,378.3 451.2,377.5 451.9,376.7 452.7,376.2 453.4,375.7 454.6,374.6 455.0,373.7 455.7,374.1 456.4,374.1 457.5,373.2 458.5,374.8 459.4,377.5 460.2,375.3 461.4,374.5 462.5,374.8 463.7,375.7 464.8,373.5 466.0,368.7 466.8,373.1 467.7,371.3 468.6,375.9 469.5,378.6 470.4,383.3 471.2,379.5 472.1,376.9 472.9,378.9 473.7,375.1 474.7,371.7 475.6,374.2 476.4,376.0 477.3,374.0 478.1,375.3 479.0,373.7 479.9,371.0 480.7,369.6 481.6,372.2 482.5,367.8 483.7,366.2 484.8,365.0 486.0,365.4 486.8,364.7 487.6,364.0 488.8,365.5 489.7,370.0 490.8,367.0 492.0,370.3 493.2,371.7 493.8,370.2 494.5,368.5 495.5,373.1 496.2,371.9 496.8,370.6 497.6,372.1 498.4,372.8 499.5,374.6 500.7,376.8 501.8,375.2 502.6,375.8 503.8,374.7 504.9,373.9 505.7,373.5 506.4,373.5 507.3,373.5 508.2,373.7 509.0,373.6 509.9,373.7 510.7,373.8 511.4,374.2 512.6,375.8 513.3,375.9 514.0,376.6 514.8,375.8 515.7,375.7 516.6,375.2 517.4,374.9 518.3,375.1 519.2,374.5 520.0,374.2 520.9,374.3 521.8,374.7 522.6,374.8 523.4,374.6 524.1,373.8 524.9,374.3 525.8,374.6 526.7,374.2 527.6,374.7 528.3,374.1 529.0,373.6 530.0,372.5 530.9,372.4 531.7,371.6 532.6,371.0 533.5,370.8 534.3,370.5 535.2,370.1 536.1,370.5 536.9,370.6 537.8,370.3 538.7,371.1 539.5,371.9 540.4,371.8 541.3,372.4 542.1,373.3 542.9,373.3 543.6,372.3 544.3,371.5 545.0,371.3 545.9,370.6 546.8,370.4 547.6,370.2 548.5,369.7 549.4,369.5 550.2,369.1 551.1,369.2 552.0,368.6 552.8,368.6 553.7,368.1 554.6,367.7 555.4,368.0 556.3,368.2 557.2,368.1 558.0,368.9 558.9,368.7 559.8,368.4 560.6,368.2 561.5,367.9 562.4,367.9 563.2,367.5 564.1,367.1 565.0,367.0 565.8,366.8 566.7,366.8 567.6,367.0 568.4,367.3 569.3,367.7 570.2,368.0 571.0,367.8 571.8,367.1 572.5,366.7 573.2,366.7 573.9,366.3 574.8,366.4 575.7,366.7 576.5,366.8 577.4,367.1 578.3,367.6 579.1,367.6 580.0,367.5 580.9,367.2 581.7,367.4 582.6,367.0 583.5,367.2 584.3,367.3 585.2,367.5 586.1,367.9 586.9,367.8 587.8,367.7 588.7,367.7 589.5,367.1 590.4,367.3 591.3,367.4 592.1,367.8 593.0,368.1 593.9,367.6 594.7,367.4 595.6,368.0 596.5,367.9 597.3,368.1 598.2,367.6 599.1,367.5 599.9,367.1 600.8,367.8 601.7,368.2 602.5,369.0 603.4,368.9 604.3,369.1 605.1,369.7 606.0,369.4 606.9,369.2 607.7,369.8 608.6,369.7 609.4,369.7 610.2,370.1 611.1,370.0 612.0,369.2 612.8,369.9 613.7,370.0 614.6,370.1 615.4,370.2 616.3,370.7 617.2,370.8 618.0,370.4 618.9,370.3 619.8,370.9 620.6,371.0 621.5,371.5 622.4,371.6 623.2,372.1 624.1,372.4 625.0,371.5 625.8,371.4 626.7,371.2 627.6,371.4 628.4,371.9 629.3,371.7 630.2,371.4 631.0,371.6 631.9,371.0 632.8,371.2 633.6,370.7 634.5,370.8 635.4,370.5 636.2,371.2 637.1,370.6 638.0,370.5 638.8,370.6 639.7,370.3 640.6,370.0 641.4,370.5 642.3,370.1 643.2,369.8 644.0,370.3 644.9,370.3 645.8,369.7 646.6,369.4 647.5,369.9 648.4,369.9 649.0,369.7" fill="none" stroke="#0d0800" stroke-width="1" stroke-linejoin="round"/>
<rect x="81.5" y="234.6" width="565" height="5.7" fill="#ff9c06" stroke="#d98200" stroke-width="1"/>
<rect x="646.5" y="234.6" width="2.5" height="5.7" fill="#ffff00" stroke="#d9d900" stroke-width="0.6"/>
<text x="81.3" y="22.6" font-size="22" textLength="106.3" lengthAdjust="spacingAndGlyphs">2026/03/08</text>
<text x="234.6" y="22.6" font-size="22" textLength="188.2" lengthAdjust="spacingAndGlyphs">AE(11) (Real-Time)</text>
<text x="479.2" y="21.5" font-size="11.6" textLength="168.3" lengthAdjust="spacingAndGlyphs">WDC for Geomagnetism, Kyoto</text>
<text x="479.3" y="443.9" font-size="11.6" textLength="171.0" lengthAdjust="spacingAndGlyphs">[Created at 2026-03-20 00:20UT]</text>
<text x="11.4" y="70.2" font-size="21.8" textLength="30.2" lengthAdjust="spacingAndGlyphs">AU</text>
<text x="11.4" y="120.5" font-size="21.8" textLength="28.0" lengthAdjust="spacingAndGlyphs">AL</text>
<text x="11.4" y="346.1" font-size="21.8" textLength="29.6" lengthAdjust="spacingAndGlyphs">AE</text>
<text x="11.4" y="389.2" font-size="21.8" textLength="31.6" lengthAdjust="spacingAndGlyphs">AO</text>
<text x="46.0" y="31.1" font-size="12" textLength="28.7" lengthAdjust="spacing">1000</text>
<text x="53.3" y="59.5" font-size="12" textLength="21.4" lengthAdjust="spacing">500</text>
<text x="67.9" y="87.8" font-size="12" textLength="6.8" lengthAdjust="spacing">0</text>
<text x="45.4" y="116.1" font-size="12" textLength="29.3" lengthAdjust="spacing">- 500</text>
<text x="38.1" y="144.4" font-size="12" textLength="36.6" lengthAdjust="spacing">- 1000</text>
<text x="38.1" y="172.8" font-size="12" textLength="36.6" lengthAdjust="spacing">- 1500</text>
<text x="38.1" y="201.1" font-size="12" textLength="36.6" lengthAdjust="spacing">- 2000</text>
<text x="52.2" y="42.8" font-size="12.1" textLength="23.8" lengthAdjust="spacingAndGlyphs">(nT)</text>
<text x="46.0" y="258.1" font-size="12" textLength="28.7" lengthAdjust="spacing">2000</text>
<text x="46.0" y="286.3" font-size="12" textLength="28.7" lengthAdjust="spacing">1500</text>
<text x="46.0" y="314.5" font-size="12" textLength="28.7" lengthAdjust="spacing">1000</text>
<text x="53.3" y="342.7" font-size="12" textLength="21.4" lengthAdjust="spacing">500</text>
<text x="67.9" y="370.9" font-size="12" textLength="6.8" lengthAdjust="spacing">0</text>
<text x="45.4" y="399.1" font-size="12" textLength="29.3" lengthAdjust="spacing">- 500</text>
<text x="52.2" y="269.8" font-size="12.1" textLength="23.8" lengthAdjust="spacingAndGlyphs">(nT)</text>
<text x="74.7" y="207.89999999999998" font-size="12" textLength="12.7" lengthAdjust="spacingAndGlyphs">00</text>
<text x="216.7" y="207.89999999999998" font-size="12" textLength="12.7" lengthAdjust="spacingAndGlyphs">06</text>
<text x="358.7" y="207.89999999999998" font-size="12" textLength="12.7" lengthAdjust="spacingAndGlyphs">12</text>
<text x="499.7" y="207.89999999999998" font-size="12" textLength="12.7" lengthAdjust="spacingAndGlyphs">18</text>
<text x="641.7" y="207.89999999999998" font-size="12" textLength="12.7" lengthAdjust="spacingAndGlyphs">24</text>
<text x="353.0" y="222.1" font-size="14.8" textLength="24.0" lengthAdjust="spacingAndGlyphs">U T</text>
<text x="74.7" y="406.9" font-size="12" textLength="12.7" lengthAdjust="spacingAndGlyphs">00</text>
<text x="216.7" y="406.9" font-size="12" textLength="12.7" lengthAdjust="spacingAndGlyphs">06</text>
<text x="358.7" y="406.9" font-size="12" textLength="12.7" lengthAdjust="spacingAndGlyphs">12</text>
<text x="499.7" y="406.9" font-size="12" textLength="12.7" lengthAdjust="spacingAndGlyphs">18</text>
<text x="641.7" y="406.9" font-size="12" textLength="12.7" lengthAdjust="spacingAndGlyphs">24</text>
<text x="353.0" y="421.0" font-size="14.8" textLength="24.0" lengthAdjust="spacingAndGlyphs">U T</text>
<text x="656.0" y="65.1" font-size="11.7" style="fill:#ff1493" textLength="13.6" lengthAdjust="spacingAndGlyphs">12</text>
<text x="656.0" y="77.1" font-size="11.7" style="fill:#ff2a00" textLength="13.6" lengthAdjust="spacingAndGlyphs">11</text>
<text x="656.0" y="89.1" font-size="11.7" style="fill:#ff9900" textLength="13.6" lengthAdjust="spacingAndGlyphs">10</text>
<text x="662.8" y="101.1" font-size="11.7" style="fill:#ffff00" textLength="6.8" lengthAdjust="spacingAndGlyphs">9</text>
<text x="662.8" y="113.1" font-size="11.7" style="fill:#80ff00" textLength="6.8" lengthAdjust="spacingAndGlyphs">8</text>
<text x="662.8" y="125.1" font-size="11.7" style="fill:#00ffd0" textLength="6.8" lengthAdjust="spacingAndGlyphs">7</text>
<text x="662.8" y="137.1" font-size="11.7" style="fill:#0080ff" textLength="6.8" lengthAdjust="spacingAndGlyphs">6</text>
<text x="662.8" y="149.1" font-size="11.7" style="fill:#3300ff" textLength="6.8" lengthAdjust="spacingAndGlyphs">5</text>
<text x="662.8" y="161.1" font-size="11.7" style="fill:#ff00ff" textLength="6.8" lengthAdjust="spacingAndGlyphs">4</text>
<text x="662.8" y="173.1" font-size="11.7" style="fill:#000000" textLength="6.8" lengthAdjust="spacingAndGlyphs">3</text>
<text x="662.8" y="185.1" font-size="11.7" style="fill:#5e5e5e" textLength="6.8" lengthAdjust="spacingAndGlyphs">2</text>
<text x="662.8" y="197.1" font-size="11.7" style="fill:#cacaca" textLength="6.8" lengthAdjust="spacingAndGlyphs">1</text>
<text x="656.0" y="263.1" font-size="11.7" style="fill:#ff1493" textLength="13.6" lengthAdjust="spacingAndGlyphs">12</text>
<text x="656.0" y="275.2" font-size="11.7" style="fill:#ff2a00" textLength="13.6" lengthAdjust="spacingAndGlyphs">11</text>
<text x="656.0" y="287.3" font-size="11.7" style="fill:#ff9900" textLength="13.6" lengthAdjust="spacingAndGlyphs">10</text>
<text x="662.8" y="299.3" font-size="11.7" style="fill:#ffff00" textLength="6.8" lengthAdjust="spacingAndGlyphs">9</text>
<text x="662.8" y="311.4" font-size="11.7" style="fill:#80ff00" textLength="6.8" lengthAdjust="spacingAndGlyphs">8</text>
<text x="662.8" y="323.5" font-size="11.7" style="fill:#00ffd0" textLength="6.8" lengthAdjust="spacingAndGlyphs">7</text>
<text x="662.8" y="335.6" font-size="11.7" style="fill:#0080ff" textLength="6.8" lengthAdjust="spacingAndGlyphs">6</text>
<text x="662.8" y="347.7" font-size="11.7" style="fill:#3300ff" textLength="6.8" lengthAdjust="spacingAndGlyphs">5</text>
<text x="662.8" y="359.7" font-size="11.7" style="fill:#ff00ff" textLength="6.8" lengthAdjust="spacingAndGlyphs">4</text>
<text x="662.8" y="371.8" font-size="11.7" style="fill:#000000" textLength="6.8" lengthAdjust="spacingAndGlyphs">3</text>
<text x="662.8" y="383.9" font-size="11.7" style="fill:#5e5e5e" textLength="6.8" lengthAdjust="spacingAndGlyphs">2</text>
<text x="662.8" y="396.0" font-size="11.7" style="fill:#cacaca" textLength="6.8" lengthAdjust="spacingAndGlyphs">1</text>
</svg></body></html>
